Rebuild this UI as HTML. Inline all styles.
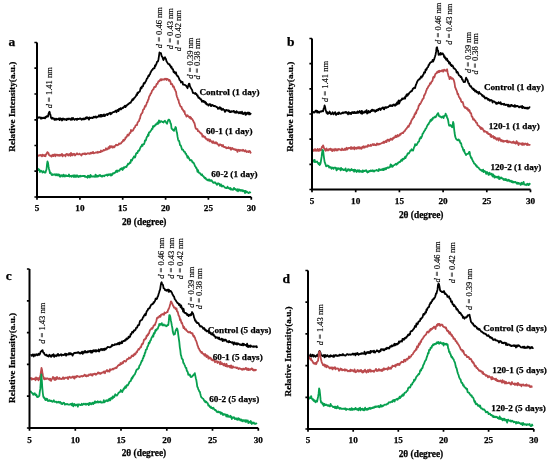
<!DOCTYPE html>
<html><head><meta charset="utf-8"><style>
html,body{margin:0;padding:0;background:#fff;width:550px;height:462px;overflow:hidden}
svg{display:block;will-change:transform}
text{font-family:"Liberation Serif",serif}
.b{font-weight:bold;stroke:#000;stroke-width:0.25px}
</style></head><body>
<svg width="550" height="462" viewBox="0 0 550 462">

<path d="M37.5,117.6 L38.0,117.9 L38.5,117.6 L39.0,117.2 L39.5,117.6 L40.0,117.3 L40.5,118.0 L41.0,118.8 L41.5,117.7 L42.0,117.6 L42.5,118.3 L43.0,118.2 L43.5,118.1 L44.0,117.4 L44.5,118.0 L45.0,118.4 L45.5,117.0 L46.0,117.4 L46.5,116.3 L47.0,116.6 L47.5,116.0 L48.0,116.5 L48.5,113.9 L49.0,112.6 L49.5,111.8 L50.0,113.6 L50.5,115.1 L51.0,117.7 L51.5,118.3 L52.0,118.7 L52.5,117.8 L53.0,118.6 L53.5,118.4 L54.0,118.6 L54.5,119.9 L55.0,118.7 L55.5,119.2 L56.0,119.8 L56.5,118.8 L57.0,119.1 L57.5,119.3 L58.0,119.2 L58.5,118.4 L59.0,119.2 L59.5,120.1 L60.0,118.2 L60.5,119.7 L61.0,119.3 L61.5,118.8 L62.0,120.5 L62.5,119.7 L63.0,118.4 L63.5,119.2 L64.0,119.5 L64.5,119.0 L65.0,119.6 L65.5,119.1 L66.0,119.6 L66.5,120.1 L67.0,118.7 L67.5,119.3 L68.0,118.8 L68.5,119.2 L69.0,118.4 L69.5,118.7 L70.0,119.0 L70.5,119.7 L71.0,119.9 L71.5,118.2 L72.0,118.6 L72.5,119.5 L73.0,117.8 L73.5,118.8 L74.0,119.0 L74.5,119.9 L75.0,119.5 L75.5,118.8 L76.0,118.8 L76.5,118.9 L77.0,120.0 L77.5,118.7 L78.0,118.8 L78.5,119.2 L79.0,118.9 L79.5,118.9 L80.0,118.3 L80.5,118.9 L81.0,118.6 L81.5,119.7 L82.0,119.3 L82.5,118.8 L83.0,119.2 L83.5,118.5 L84.0,119.4 L84.5,118.7 L85.0,119.0 L85.5,117.7 L86.0,118.8 L86.5,117.4 L87.0,117.1 L87.5,118.2 L88.0,117.7 L88.5,118.3 L89.0,119.6 L89.5,117.5 L90.0,117.6 L90.5,118.1 L91.0,118.2 L91.5,117.7 L92.0,117.6 L92.5,118.1 L93.0,117.9 L93.5,116.8 L94.0,117.4 L94.5,117.4 L95.0,116.6 L95.5,117.3 L96.0,116.5 L96.5,117.6 L97.0,117.1 L97.5,116.9 L98.0,116.4 L98.5,116.6 L99.0,115.3 L99.5,115.7 L100.0,116.6 L100.5,114.9 L101.0,116.7 L101.5,114.9 L102.0,116.4 L102.5,115.2 L103.0,116.1 L103.5,115.6 L104.0,114.4 L104.5,116.1 L105.0,116.0 L105.5,114.9 L106.0,114.6 L106.5,114.6 L107.0,113.9 L107.5,115.1 L108.0,113.9 L108.5,114.0 L109.0,113.4 L109.5,113.4 L110.0,112.8 L110.5,114.3 L111.0,113.2 L111.5,113.7 L112.0,112.9 L112.5,112.3 L113.0,112.3 L113.5,112.0 L114.0,112.2 L114.5,111.7 L115.0,111.6 L115.5,110.7 L116.0,110.8 L116.5,112.2 L117.0,110.5 L117.5,110.0 L118.0,110.7 L118.5,111.1 L119.0,109.0 L119.5,109.6 L120.0,109.1 L120.5,108.1 L121.0,109.4 L121.5,108.7 L122.0,108.5 L122.5,107.6 L123.0,108.1 L123.5,107.2 L124.0,107.1 L124.5,106.2 L125.0,105.8 L125.5,107.1 L126.0,105.6 L126.5,105.8 L127.0,105.2 L127.5,104.6 L128.0,104.1 L128.5,104.4 L129.0,103.4 L129.5,103.0 L130.0,102.7 L130.5,102.9 L131.0,102.1 L131.5,101.3 L132.0,100.2 L132.5,99.1 L133.0,100.0 L133.5,99.4 L134.0,98.0 L134.5,97.8 L135.0,97.3 L135.5,96.6 L136.0,96.0 L136.5,94.4 L137.0,95.0 L137.5,92.6 L138.0,93.3 L138.5,92.3 L139.0,91.9 L139.5,91.9 L140.0,90.9 L140.5,88.5 L141.0,87.5 L141.5,88.4 L142.0,86.5 L142.5,86.4 L143.0,86.3 L143.5,83.9 L144.0,82.9 L144.5,83.6 L145.0,82.7 L145.5,81.7 L146.0,81.0 L146.5,79.6 L147.0,78.3 L147.5,78.3 L148.0,76.8 L148.5,75.5 L149.0,76.0 L149.5,74.7 L150.0,74.2 L150.5,72.4 L151.0,71.8 L151.5,70.7 L152.0,70.0 L152.5,69.9 L153.0,68.6 L153.5,68.6 L154.0,67.9 L154.5,68.3 L155.0,65.3 L155.5,66.0 L156.0,64.6 L156.5,63.8 L157.0,61.9 L157.5,61.7 L158.0,61.3 L158.5,59.2 L159.0,55.9 L159.5,52.4 L160.0,53.1 L160.5,53.3 L161.0,53.1 L161.5,55.6 L162.0,56.7 L162.5,57.2 L163.0,59.1 L163.5,60.0 L164.0,58.8 L164.5,57.5 L165.0,57.3 L165.5,58.5 L166.0,59.3 L166.5,61.3 L167.0,62.1 L167.5,62.8 L168.0,63.8 L168.5,64.1 L169.0,64.4 L169.5,64.1 L170.0,65.8 L170.5,65.7 L171.0,67.6 L171.5,66.8 L172.0,68.4 L172.5,69.2 L173.0,69.1 L173.5,71.8 L174.0,72.3 L174.5,71.7 L175.0,73.2 L175.5,73.6 L176.0,72.4 L176.5,74.9 L177.0,75.4 L177.5,76.2 L178.0,76.1 L178.5,77.4 L179.0,78.3 L179.5,80.0 L180.0,80.3 L180.5,80.8 L181.0,82.5 L181.5,81.8 L182.0,82.4 L182.5,81.9 L183.0,84.5 L183.5,84.4 L184.0,84.7 L184.5,84.9 L185.0,84.9 L185.5,85.4 L186.0,85.6 L186.5,86.4 L187.0,87.2 L187.5,88.2 L188.0,86.6 L188.5,84.8 L189.0,83.7 L189.5,83.9 L190.0,86.5 L190.5,87.2 L191.0,88.2 L191.5,89.0 L192.0,89.7 L192.5,91.4 L193.0,93.0 L193.5,92.7 L194.0,93.2 L194.5,93.5 L195.0,93.9 L195.5,93.0 L196.0,94.1 L196.5,94.0 L197.0,95.6 L197.5,95.1 L198.0,96.6 L198.5,97.9 L199.0,97.4 L199.5,97.8 L200.0,98.9 L200.5,99.3 L201.0,99.1 L201.5,100.4 L202.0,101.8 L202.5,100.7 L203.0,101.1 L203.5,100.9 L204.0,102.1 L204.5,101.4 L205.0,101.8 L205.5,103.6 L206.0,102.5 L206.5,104.1 L207.0,104.6 L207.5,104.1 L208.0,104.5 L208.5,105.6 L209.0,104.4 L209.5,104.4 L210.0,104.0 L210.5,105.1 L211.0,106.1 L211.5,105.9 L212.0,104.8 L212.5,105.0 L213.0,105.3 L213.5,106.0 L214.0,105.8 L214.5,106.2 L215.0,106.4 L215.5,106.2 L216.0,106.6 L216.5,107.0 L217.0,107.0 L217.5,107.6 L218.0,108.8 L218.5,108.2 L219.0,108.1 L219.5,107.2 L220.0,108.8 L220.5,107.5 L221.0,108.1 L221.5,109.8 L222.0,109.9 L222.5,109.6 L223.0,108.7 L223.5,109.7 L224.0,109.6 L224.5,110.6 L225.0,111.8 L225.5,110.6 L226.0,110.0 L226.5,109.9 L227.0,110.7 L227.5,110.7 L228.0,110.2 L228.5,111.1 L229.0,110.4 L229.5,111.9 L230.0,112.0 L230.5,112.1 L231.0,111.1 L231.5,111.9 L232.0,111.5 L232.5,111.4 L233.0,111.5 L233.5,111.0 L234.0,111.0 L234.5,112.5 L235.0,111.9 L235.5,112.3 L236.0,112.9 L236.5,111.2 L237.0,111.8 L237.5,112.5 L238.0,112.7 L238.5,112.3 L239.0,113.3 L239.5,112.8 L240.0,111.9 L240.5,112.2 L241.0,113.4 L241.5,113.2 L242.0,111.7 L242.5,113.9 L243.0,113.4 L243.5,114.0 L244.0,112.9 L244.5,113.0 L245.0,112.5 L245.5,114.9 L246.0,113.2 L246.5,114.4 L247.0,113.0 L247.5,113.6 L248.0,112.4 L248.5,113.3 L249.0,114.2 L249.5,112.8 L250.0,114.3 L250.5,113.9 L251.0,113.0" fill="none" stroke="#000" stroke-width="1.8" stroke-linejoin="round"/>
<path d="M37.5,155.5 L38.0,155.5 L38.5,155.8 L39.0,155.4 L39.5,155.2 L40.0,155.6 L40.5,155.1 L41.0,154.9 L41.5,155.7 L42.0,156.3 L42.5,154.7 L43.0,155.7 L43.5,155.2 L44.0,154.9 L44.5,156.1 L45.0,155.2 L45.5,156.2 L46.0,154.1 L46.5,154.1 L47.0,152.9 L47.5,152.1 L48.0,153.0 L48.5,153.2 L49.0,154.9 L49.5,155.5 L50.0,155.3 L50.5,155.9 L51.0,156.0 L51.5,156.6 L52.0,155.3 L52.5,155.8 L53.0,154.7 L53.5,156.2 L54.0,155.0 L54.5,154.5 L55.0,155.6 L55.5,156.3 L56.0,154.5 L56.5,154.8 L57.0,155.0 L57.5,154.7 L58.0,155.7 L58.5,154.9 L59.0,154.9 L59.5,155.7 L60.0,154.8 L60.5,155.6 L61.0,154.6 L61.5,154.5 L62.0,154.0 L62.5,156.4 L63.0,155.0 L63.5,155.3 L64.0,155.1 L64.5,155.2 L65.0,155.1 L65.5,156.3 L66.0,154.4 L66.5,154.0 L67.0,154.3 L67.5,154.1 L68.0,155.4 L68.5,155.5 L69.0,154.3 L69.5,154.0 L70.0,154.6 L70.5,155.8 L71.0,153.0 L71.5,155.1 L72.0,154.1 L72.5,155.4 L73.0,154.0 L73.5,154.5 L74.0,153.7 L74.5,154.0 L75.0,155.5 L75.5,155.1 L76.0,154.3 L76.5,154.0 L77.0,153.3 L77.5,154.2 L78.0,154.4 L78.5,154.4 L79.0,154.3 L79.5,153.6 L80.0,154.3 L80.5,154.3 L81.0,155.1 L81.5,155.5 L82.0,154.1 L82.5,153.7 L83.0,154.1 L83.5,153.7 L84.0,153.6 L84.5,154.0 L85.0,153.3 L85.5,154.4 L86.0,153.9 L86.5,154.1 L87.0,153.7 L87.5,153.3 L88.0,153.2 L88.5,153.6 L89.0,153.3 L89.5,153.8 L90.0,153.6 L90.5,152.7 L91.0,153.5 L91.5,152.6 L92.0,153.0 L92.5,153.1 L93.0,151.9 L93.5,153.3 L94.0,153.3 L94.5,153.0 L95.0,152.8 L95.5,152.7 L96.0,152.3 L96.5,152.6 L97.0,152.4 L97.5,152.7 L98.0,151.7 L98.5,152.5 L99.0,152.3 L99.5,152.0 L100.0,151.6 L100.5,152.1 L101.0,150.5 L101.5,151.6 L102.0,151.3 L102.5,151.1 L103.0,150.9 L103.5,150.0 L104.0,150.1 L104.5,150.4 L105.0,150.1 L105.5,149.7 L106.0,148.3 L106.5,149.4 L107.0,149.6 L107.5,149.3 L108.0,148.6 L108.5,147.2 L109.0,148.6 L109.5,147.7 L110.0,146.0 L110.5,147.7 L111.0,146.3 L111.5,146.2 L112.0,146.5 L112.5,147.6 L113.0,146.4 L113.5,146.6 L114.0,147.4 L114.5,147.1 L115.0,145.8 L115.5,145.6 L116.0,144.7 L116.5,144.8 L117.0,145.3 L117.5,145.1 L118.0,144.6 L118.5,144.9 L119.0,143.5 L119.5,143.7 L120.0,143.9 L120.5,143.4 L121.0,143.4 L121.5,142.6 L122.0,141.8 L122.5,141.8 L123.0,140.5 L123.5,139.7 L124.0,140.7 L124.5,139.7 L125.0,139.4 L125.5,137.5 L126.0,137.8 L126.5,137.0 L127.0,136.2 L127.5,134.7 L128.0,135.3 L128.5,135.5 L129.0,134.5 L129.5,133.2 L130.0,133.0 L130.5,132.9 L131.0,130.0 L131.5,131.1 L132.0,131.0 L132.5,130.4 L133.0,130.5 L133.5,129.4 L134.0,128.3 L134.5,127.6 L135.0,127.2 L135.5,125.6 L136.0,125.2 L136.5,125.1 L137.0,125.0 L137.5,122.8 L138.0,122.1 L138.5,121.3 L139.0,121.1 L139.5,119.0 L140.0,118.7 L140.5,115.7 L141.0,114.8 L141.5,113.6 L142.0,113.3 L142.5,112.5 L143.0,109.9 L143.5,109.4 L144.0,109.2 L144.5,107.6 L145.0,106.0 L145.5,106.6 L146.0,105.2 L146.5,104.1 L147.0,102.3 L147.5,102.1 L148.0,100.0 L148.5,99.6 L149.0,97.0 L149.5,95.9 L150.0,95.5 L150.5,93.8 L151.0,93.7 L151.5,92.4 L152.0,90.7 L152.5,90.4 L153.0,89.3 L153.5,89.2 L154.0,87.4 L154.5,86.7 L155.0,87.0 L155.5,86.9 L156.0,86.1 L156.5,84.2 L157.0,83.7 L157.5,83.9 L158.0,82.3 L158.5,81.2 L159.0,81.4 L159.5,81.2 L160.0,80.1 L160.5,79.3 L161.0,79.2 L161.5,80.3 L162.0,79.2 L162.5,79.5 L163.0,79.6 L163.5,79.7 L164.0,79.1 L164.5,79.6 L165.0,78.7 L165.5,79.1 L166.0,78.6 L166.5,80.0 L167.0,79.3 L167.5,78.9 L168.0,79.4 L168.5,79.9 L169.0,80.9 L169.5,79.9 L170.0,80.8 L170.5,81.8 L171.0,84.2 L171.5,83.9 L172.0,83.9 L172.5,85.1 L173.0,86.8 L173.5,86.2 L174.0,87.0 L174.5,89.0 L175.0,89.6 L175.5,90.9 L176.0,91.7 L176.5,95.0 L177.0,96.8 L177.5,97.9 L178.0,99.9 L178.5,99.8 L179.0,102.9 L179.5,103.6 L180.0,105.1 L180.5,106.4 L181.0,106.7 L181.5,106.8 L182.0,109.0 L182.5,109.2 L183.0,110.2 L183.5,110.8 L184.0,111.8 L184.5,111.2 L185.0,114.2 L185.5,114.3 L186.0,115.5 L186.5,116.6 L187.0,115.9 L187.5,115.2 L188.0,116.2 L188.5,116.4 L189.0,117.1 L189.5,117.8 L190.0,116.7 L190.5,118.5 L191.0,117.5 L191.5,118.9 L192.0,119.0 L192.5,119.5 L193.0,120.6 L193.5,121.4 L194.0,122.6 L194.5,123.2 L195.0,125.5 L195.5,127.8 L196.0,128.7 L196.5,129.0 L197.0,129.4 L197.5,129.2 L198.0,131.2 L198.5,130.9 L199.0,131.5 L199.5,131.9 L200.0,132.7 L200.5,132.9 L201.0,133.7 L201.5,133.5 L202.0,134.5 L202.5,136.7 L203.0,135.6 L203.5,136.0 L204.0,136.9 L204.5,137.5 L205.0,136.7 L205.5,137.7 L206.0,138.8 L206.5,138.8 L207.0,139.0 L207.5,140.3 L208.0,139.1 L208.5,139.9 L209.0,139.8 L209.5,141.4 L210.0,139.5 L210.5,140.6 L211.0,140.9 L211.5,141.9 L212.0,142.1 L212.5,142.9 L213.0,141.2 L213.5,142.9 L214.0,142.4 L214.5,142.4 L215.0,143.4 L215.5,142.7 L216.0,142.2 L216.5,143.5 L217.0,143.0 L217.5,143.7 L218.0,144.6 L218.5,144.8 L219.0,145.8 L219.5,144.9 L220.0,144.2 L220.5,144.9 L221.0,145.0 L221.5,145.0 L222.0,146.2 L222.5,145.7 L223.0,145.0 L223.5,146.9 L224.0,146.6 L224.5,147.0 L225.0,147.0 L225.5,147.5 L226.0,147.3 L226.5,148.3 L227.0,147.9 L227.5,148.0 L228.0,148.2 L228.5,147.1 L229.0,148.1 L229.5,148.2 L230.0,148.6 L230.5,147.7 L231.0,149.8 L231.5,148.9 L232.0,148.2 L232.5,148.0 L233.0,149.1 L233.5,149.3 L234.0,149.0 L234.5,149.6 L235.0,149.3 L235.5,150.1 L236.0,149.4 L236.5,150.0 L237.0,150.7 L237.5,151.9 L238.0,149.6 L238.5,150.1 L239.0,149.9 L239.5,151.0 L240.0,149.9 L240.5,150.4 L241.0,150.7 L241.5,150.2 L242.0,150.3 L242.5,150.7 L243.0,149.7 L243.5,150.2 L244.0,150.9 L244.5,151.3 L245.0,151.2 L245.5,150.2 L246.0,151.1 L246.5,152.0 L247.0,151.9 L247.5,151.5 L248.0,151.1 L248.5,152.1 L249.0,151.4 L249.5,151.0 L250.0,151.3 L250.5,152.8 L251.0,152.0" fill="none" stroke="#bb4a4d" stroke-width="1.8" stroke-linejoin="round"/>
<path d="M37.5,169.6 L38.0,168.8 L38.5,170.1 L39.0,169.4 L39.5,170.0 L40.0,172.0 L40.5,171.1 L41.0,170.6 L41.5,171.1 L42.0,171.6 L42.5,172.5 L43.0,171.7 L43.5,171.1 L44.0,172.2 L44.5,172.5 L45.0,172.4 L45.5,172.5 L46.0,170.7 L46.5,169.5 L47.0,164.5 L47.5,161.5 L48.0,162.9 L48.5,166.4 L49.0,169.0 L49.5,170.7 L50.0,173.2 L50.5,172.4 L51.0,173.6 L51.5,174.5 L52.0,175.0 L52.5,174.3 L53.0,174.8 L53.5,174.5 L54.0,174.8 L54.5,174.7 L55.0,174.1 L55.5,174.8 L56.0,175.4 L56.5,174.3 L57.0,174.8 L57.5,175.4 L58.0,174.3 L58.5,175.2 L59.0,174.4 L59.5,175.9 L60.0,176.7 L60.5,176.6 L61.0,175.1 L61.5,175.8 L62.0,175.4 L62.5,175.5 L63.0,176.5 L63.5,174.6 L64.0,176.2 L64.5,175.5 L65.0,176.5 L65.5,175.8 L66.0,175.2 L66.5,175.9 L67.0,176.2 L67.5,175.8 L68.0,176.1 L68.5,175.5 L69.0,174.5 L69.5,176.5 L70.0,176.4 L70.5,176.0 L71.0,176.0 L71.5,176.7 L72.0,175.7 L72.5,175.6 L73.0,175.9 L73.5,176.9 L74.0,175.2 L74.5,176.9 L75.0,175.7 L75.5,175.4 L76.0,177.0 L76.5,176.1 L77.0,175.3 L77.5,176.0 L78.0,176.8 L78.5,177.0 L79.0,175.9 L79.5,176.5 L80.0,176.7 L80.5,175.8 L81.0,176.4 L81.5,176.2 L82.0,175.9 L82.5,175.9 L83.0,176.2 L83.5,176.2 L84.0,175.8 L84.5,175.9 L85.0,176.9 L85.5,176.3 L86.0,176.8 L86.5,177.0 L87.0,176.6 L87.5,177.7 L88.0,175.7 L88.5,176.7 L89.0,176.0 L89.5,177.4 L90.0,177.3 L90.5,174.9 L91.0,175.6 L91.5,176.6 L92.0,176.7 L92.5,176.7 L93.0,176.2 L93.5,176.5 L94.0,176.6 L94.5,176.1 L95.0,176.9 L95.5,174.7 L96.0,176.6 L96.5,175.5 L97.0,176.8 L97.5,176.0 L98.0,175.6 L98.5,176.4 L99.0,175.5 L99.5,175.5 L100.0,175.0 L100.5,176.0 L101.0,176.3 L101.5,176.6 L102.0,175.8 L102.5,176.5 L103.0,175.7 L103.5,175.6 L104.0,176.0 L104.5,176.2 L105.0,175.2 L105.5,175.2 L106.0,175.2 L106.5,175.2 L107.0,174.5 L107.5,175.7 L108.0,174.6 L108.5,175.1 L109.0,174.2 L109.5,174.8 L110.0,174.8 L110.5,174.1 L111.0,175.6 L111.5,174.3 L112.0,175.1 L112.5,174.4 L113.0,173.1 L113.5,173.1 L114.0,173.4 L114.5,172.9 L115.0,172.7 L115.5,172.3 L116.0,171.0 L116.5,171.9 L117.0,170.3 L117.5,171.8 L118.0,170.9 L118.5,170.6 L119.0,170.7 L119.5,170.8 L120.0,169.5 L120.5,169.0 L121.0,169.2 L121.5,168.3 L122.0,168.7 L122.5,170.0 L123.0,168.0 L123.5,168.8 L124.0,167.1 L124.5,167.8 L125.0,167.0 L125.5,166.8 L126.0,166.7 L126.5,167.0 L127.0,165.6 L127.5,165.0 L128.0,163.8 L128.5,164.3 L129.0,163.3 L129.5,163.4 L130.0,162.3 L130.5,162.9 L131.0,159.9 L131.5,160.4 L132.0,160.5 L132.5,159.1 L133.0,158.1 L133.5,157.8 L134.0,156.4 L134.5,156.6 L135.0,157.5 L135.5,155.9 L136.0,153.8 L136.5,153.2 L137.0,152.8 L137.5,153.0 L138.0,151.1 L138.5,150.5 L139.0,150.8 L139.5,150.0 L140.0,148.5 L140.5,147.4 L141.0,146.5 L141.5,146.4 L142.0,144.7 L142.5,145.9 L143.0,144.3 L143.5,144.2 L144.0,144.2 L144.5,142.8 L145.0,140.3 L145.5,140.7 L146.0,139.9 L146.5,137.8 L147.0,136.7 L147.5,136.4 L148.0,134.5 L148.5,135.7 L149.0,132.3 L149.5,132.3 L150.0,132.0 L150.5,131.1 L151.0,130.5 L151.5,129.7 L152.0,128.6 L152.5,128.8 L153.0,126.1 L153.5,127.0 L154.0,126.0 L154.5,126.2 L155.0,125.7 L155.5,124.5 L156.0,124.1 L156.5,124.5 L157.0,123.7 L157.5,122.5 L158.0,123.8 L158.5,123.5 L159.0,120.5 L159.5,121.2 L160.0,122.4 L160.5,121.3 L161.0,121.2 L161.5,121.4 L162.0,121.6 L162.5,122.1 L163.0,121.9 L163.5,122.5 L164.0,121.4 L164.5,121.1 L165.0,120.7 L165.5,122.0 L166.0,122.2 L166.5,123.1 L167.0,123.7 L167.5,122.0 L168.0,120.6 L168.5,119.7 L169.0,119.6 L169.5,120.3 L170.0,121.2 L170.5,123.2 L171.0,124.0 L171.5,128.2 L172.0,129.0 L172.5,129.3 L173.0,130.1 L173.5,130.3 L174.0,130.8 L174.5,129.1 L175.0,128.9 L175.5,127.0 L176.0,127.8 L176.5,131.4 L177.0,132.8 L177.5,136.4 L178.0,139.2 L178.5,140.6 L179.0,140.7 L179.5,142.3 L180.0,145.1 L180.5,145.2 L181.0,146.0 L181.5,147.7 L182.0,149.5 L182.5,149.6 L183.0,149.7 L183.5,150.6 L184.0,151.6 L184.5,151.6 L185.0,152.1 L185.5,153.6 L186.0,153.6 L186.5,154.9 L187.0,155.7 L187.5,157.8 L188.0,156.4 L188.5,157.6 L189.0,158.3 L189.5,159.4 L190.0,160.4 L190.5,160.0 L191.0,160.3 L191.5,160.2 L192.0,161.1 L192.5,162.5 L193.0,162.7 L193.5,162.5 L194.0,163.6 L194.5,164.7 L195.0,166.1 L195.5,166.5 L196.0,167.9 L196.5,168.0 L197.0,169.4 L197.5,171.9 L198.0,170.1 L198.5,171.9 L199.0,172.8 L199.5,173.0 L200.0,173.2 L200.5,174.2 L201.0,174.7 L201.5,175.1 L202.0,174.3 L202.5,175.8 L203.0,175.8 L203.5,176.3 L204.0,177.2 L204.5,177.8 L205.0,178.3 L205.5,177.8 L206.0,179.0 L206.5,179.5 L207.0,179.8 L207.5,180.2 L208.0,179.5 L208.5,179.7 L209.0,180.7 L209.5,179.5 L210.0,180.8 L210.5,180.5 L211.0,180.9 L211.5,180.2 L212.0,181.0 L212.5,181.8 L213.0,182.6 L213.5,182.9 L214.0,182.4 L214.5,182.5 L215.0,182.3 L215.5,183.4 L216.0,183.2 L216.5,183.9 L217.0,184.9 L217.5,183.9 L218.0,183.2 L218.5,183.8 L219.0,183.6 L219.5,184.0 L220.0,185.8 L220.5,185.3 L221.0,184.4 L221.5,186.0 L222.0,186.5 L222.5,185.7 L223.0,185.7 L223.5,186.1 L224.0,186.6 L224.5,187.0 L225.0,187.6 L225.5,187.8 L226.0,187.9 L226.5,188.2 L227.0,188.0 L227.5,186.7 L228.0,187.8 L228.5,188.2 L229.0,187.9 L229.5,188.9 L230.0,188.3 L230.5,188.0 L231.0,189.7 L231.5,189.3 L232.0,189.1 L232.5,189.7 L233.0,189.9 L233.5,189.5 L234.0,187.8 L234.5,189.0 L235.0,189.3 L235.5,189.0 L236.0,189.8 L236.5,190.6 L237.0,189.5 L237.5,189.2 L238.0,191.3 L238.5,189.8 L239.0,189.3 L239.5,190.4 L240.0,190.5 L240.5,189.9 L241.0,190.9 L241.5,190.2 L242.0,190.0 L242.5,190.8 L243.0,191.3 L243.5,190.5 L244.0,191.2 L244.5,191.0 L245.0,193.1 L245.5,190.9 L246.0,192.4 L246.5,191.6 L247.0,191.7 L247.5,192.4 L248.0,192.6 L248.5,193.0 L249.0,192.6 L249.5,192.1 L250.0,192.3 L250.5,193.2" fill="none" stroke="#07a04f" stroke-width="1.8" stroke-linejoin="round"/>
<path d="M37,42.5 V197 H251.3" fill="none" stroke="#000" stroke-width="2.0"/>
<path d="M34.4,42.5 H37 M34.4,68.2 H37 M34.4,94.0 H37 M34.4,119.8 H37 M34.4,145.5 H37 M34.4,171.2 H37 M34.4,197.0 H37 M37.0,197 V199.8 M79.9,197 V199.8 M122.7,197 V199.8 M165.6,197 V199.8 M208.4,197 V199.8 M251.3,197 V199.8" stroke="#000" stroke-width="1.7"/>
<text class="b" x="37.0" y="211.3" font-size="9.2" text-anchor="middle">5</text>
<text class="b" x="79.9" y="211.3" font-size="9.2" text-anchor="middle">10</text>
<text class="b" x="122.7" y="211.3" font-size="9.2" text-anchor="middle">15</text>
<text class="b" x="165.6" y="211.3" font-size="9.2" text-anchor="middle">20</text>
<text class="b" x="208.4" y="211.3" font-size="9.2" text-anchor="middle">25</text>
<text class="b" x="251.3" y="211.3" font-size="9.2" text-anchor="middle">30</text>
<text class="b" x="144.2" y="224.7" font-size="9.4" text-anchor="middle">2θ (degree)</text>
<text class="b" transform="translate(11.6,106.7) rotate(-90)" x="0" y="3" font-size="9.25" text-anchor="middle">Relative Intensity(a.u.)</text>
<text class="b" x="8.4" y="46.2" font-size="13.5">a</text>
<text class="b" x="199.4" y="94.6" font-size="9.2">Control (1 day)</text>
<text class="b" x="206" y="133.6" font-size="9.2">60-1 (1 day)</text>
<text class="b" x="211.2" y="176.7" font-size="9.2">60-2 (1 day)</text>
<text transform="translate(51.8,108.3) rotate(-90) scale(1,1.0)" x="0" y="0" font-size="8.5" stroke="#000" stroke-width="0.15"><tspan font-style="italic">d</tspan> = 1.41 nm</text>
<text transform="translate(161.8,48.2) rotate(-90) scale(1,1.0)" x="0" y="0" font-size="8.5" stroke="#000" stroke-width="0.15"><tspan font-style="italic">d</tspan> = 0.46 nm</text>
<text transform="translate(172.8,49.2) rotate(-90) scale(1,1.0)" x="0" y="0" font-size="8.5" stroke="#000" stroke-width="0.15"><tspan font-style="italic">d</tspan> = 0.43 nm</text>
<text transform="translate(180.8,51.2) rotate(-90) scale(1,1.0)" x="0" y="0" font-size="8.5" stroke="#000" stroke-width="0.15"><tspan font-style="italic">d</tspan> = 0.42 nm</text>
<text transform="translate(192.60000000000002,78.7) rotate(-90) scale(1,1.0)" x="0" y="0" font-size="8.5" stroke="#000" stroke-width="0.15"><tspan font-style="italic">d</tspan> = 0.39 nm</text>
<text transform="translate(199.70000000000002,79.4) rotate(-90) scale(1,1.0)" x="0" y="0" font-size="8.5" stroke="#000" stroke-width="0.15"><tspan font-style="italic">d</tspan> = 0.38 nm</text>
<path d="M312.6,112.0 L313.1,112.5 L313.6,111.9 L314.1,112.3 L314.6,112.6 L315.1,111.7 L315.6,110.6 L316.1,110.8 L316.6,110.7 L317.1,112.6 L317.6,111.0 L318.1,112.4 L318.6,112.0 L319.1,112.7 L319.6,112.3 L320.1,111.5 L320.6,111.5 L321.1,111.6 L321.6,111.5 L322.1,110.8 L322.6,110.8 L323.1,111.4 L323.6,108.7 L324.1,108.0 L324.6,105.4 L325.1,107.0 L325.6,109.9 L326.1,111.2 L326.6,112.9 L327.1,112.1 L327.6,113.9 L328.1,112.8 L328.6,113.6 L329.1,113.3 L329.6,111.5 L330.1,112.7 L330.6,113.3 L331.1,114.2 L331.6,113.4 L332.1,113.4 L332.6,112.3 L333.1,114.1 L333.6,114.4 L334.1,113.2 L334.6,113.1 L335.1,112.1 L335.6,113.8 L336.1,115.0 L336.6,113.7 L337.1,114.0 L337.6,113.6 L338.1,112.6 L338.6,114.1 L339.1,112.4 L339.6,113.1 L340.1,113.4 L340.6,113.8 L341.1,113.5 L341.6,113.5 L342.1,112.7 L342.6,112.4 L343.1,113.2 L343.6,112.7 L344.1,112.3 L344.6,112.4 L345.1,112.9 L345.6,112.0 L346.1,112.3 L346.6,112.1 L347.1,113.3 L347.6,113.4 L348.1,114.4 L348.6,112.1 L349.1,112.7 L349.6,113.7 L350.1,112.9 L350.6,112.8 L351.1,114.1 L351.6,112.8 L352.1,112.2 L352.6,112.1 L353.1,113.1 L353.6,113.1 L354.1,111.9 L354.6,112.1 L355.1,113.1 L355.6,113.1 L356.1,112.3 L356.6,113.0 L357.1,113.0 L357.6,111.4 L358.1,112.3 L358.6,112.7 L359.1,112.1 L359.6,111.0 L360.1,112.2 L360.6,112.8 L361.1,113.3 L361.6,110.8 L362.1,113.9 L362.6,111.4 L363.1,112.7 L363.6,112.9 L364.1,112.7 L364.6,112.1 L365.1,111.2 L365.6,112.3 L366.1,111.3 L366.6,110.1 L367.1,113.5 L367.6,112.1 L368.1,112.8 L368.6,110.9 L369.1,112.4 L369.6,112.4 L370.1,112.3 L370.6,111.2 L371.1,110.4 L371.6,111.0 L372.1,109.6 L372.6,109.8 L373.1,110.9 L373.6,110.1 L374.1,110.6 L374.6,110.5 L375.1,111.8 L375.6,111.3 L376.1,110.3 L376.6,111.0 L377.1,109.6 L377.6,109.8 L378.1,110.4 L378.6,108.9 L379.1,109.4 L379.6,108.5 L380.1,109.3 L380.6,110.1 L381.1,108.4 L381.6,108.8 L382.1,107.9 L382.6,107.6 L383.1,107.4 L383.6,109.0 L384.1,109.4 L384.6,108.0 L385.1,107.1 L385.6,107.9 L386.1,107.1 L386.6,107.7 L387.1,107.3 L387.6,107.1 L388.1,107.2 L388.6,106.4 L389.1,106.4 L389.6,105.4 L390.1,106.1 L390.6,105.3 L391.1,106.0 L391.6,105.4 L392.1,105.9 L392.6,106.0 L393.1,104.6 L393.6,104.8 L394.1,104.5 L394.6,105.4 L395.1,105.8 L395.6,104.9 L396.1,103.8 L396.6,104.7 L397.1,102.4 L397.6,104.0 L398.1,102.2 L398.6,100.5 L399.1,103.6 L399.6,102.5 L400.1,100.4 L400.6,100.8 L401.1,100.1 L401.6,99.9 L402.1,98.5 L402.6,98.6 L403.1,99.0 L403.6,98.4 L404.1,98.6 L404.6,97.5 L405.1,98.6 L405.6,96.2 L406.1,96.4 L406.6,94.5 L407.1,94.5 L407.6,95.7 L408.1,93.8 L408.6,94.3 L409.1,93.4 L409.6,92.3 L410.1,92.2 L410.6,91.6 L411.1,91.1 L411.6,91.3 L412.1,90.7 L412.6,89.3 L413.1,88.4 L413.6,88.6 L414.1,87.6 L414.6,87.7 L415.1,88.0 L415.6,85.9 L416.1,84.4 L416.6,83.4 L417.1,81.9 L417.6,81.0 L418.1,80.1 L418.6,79.8 L419.1,79.2 L419.6,79.4 L420.1,78.1 L420.6,77.7 L421.1,76.4 L421.6,77.6 L422.1,76.2 L422.6,76.2 L423.1,74.7 L423.6,74.3 L424.1,72.3 L424.6,72.1 L425.1,72.6 L425.6,69.3 L426.1,70.0 L426.6,69.5 L427.1,67.9 L427.6,67.4 L428.1,67.0 L428.6,65.0 L429.1,65.0 L429.6,63.5 L430.1,63.0 L430.6,62.4 L431.1,62.2 L431.6,61.9 L432.1,61.7 L432.6,59.9 L433.1,61.7 L433.6,60.5 L434.1,59.4 L434.6,57.8 L435.1,56.3 L435.6,54.4 L436.1,51.7 L436.6,47.7 L437.1,47.3 L437.6,50.5 L438.1,50.6 L438.6,54.8 L439.1,54.4 L439.6,54.0 L440.1,54.8 L440.6,52.9 L441.1,53.7 L441.6,54.4 L442.1,53.3 L442.6,53.3 L443.1,54.2 L443.6,54.7 L444.1,57.0 L444.6,56.3 L445.1,58.4 L445.6,57.8 L446.1,59.7 L446.6,59.8 L447.1,58.7 L447.6,61.0 L448.1,60.8 L448.6,61.7 L449.1,63.6 L449.6,62.3 L450.1,62.8 L450.6,65.0 L451.1,64.6 L451.6,66.1 L452.1,65.8 L452.6,65.5 L453.1,66.6 L453.6,68.1 L454.1,68.5 L454.6,68.5 L455.1,69.2 L455.6,69.7 L456.1,70.1 L456.6,72.5 L457.1,72.0 L457.6,72.0 L458.1,73.1 L458.6,74.7 L459.1,75.4 L459.6,75.6 L460.1,76.0 L460.6,77.1 L461.1,76.6 L461.6,77.5 L462.1,79.6 L462.6,79.5 L463.1,80.8 L463.6,82.0 L464.1,82.0 L464.6,81.5 L465.1,81.9 L465.6,79.4 L466.1,77.7 L466.6,78.6 L467.1,79.7 L467.6,80.2 L468.1,82.2 L468.6,83.5 L469.1,83.4 L469.6,85.4 L470.1,86.0 L470.6,86.5 L471.1,86.3 L471.6,87.6 L472.1,88.3 L472.6,88.9 L473.1,88.5 L473.6,90.0 L474.1,89.2 L474.6,90.2 L475.1,91.5 L475.6,90.5 L476.1,91.0 L476.6,92.3 L477.1,91.7 L477.6,92.1 L478.1,92.8 L478.6,93.7 L479.1,91.9 L479.6,93.2 L480.1,93.4 L480.6,93.7 L481.1,94.2 L481.6,94.6 L482.1,95.7 L482.6,95.2 L483.1,96.3 L483.6,96.8 L484.1,96.3 L484.6,97.2 L485.1,98.5 L485.6,98.0 L486.1,97.7 L486.6,98.3 L487.1,98.1 L487.6,99.2 L488.1,99.8 L488.6,99.0 L489.1,99.6 L489.6,100.7 L490.1,99.9 L490.6,100.6 L491.1,100.0 L491.6,100.3 L492.1,100.7 L492.6,102.6 L493.1,101.2 L493.6,101.3 L494.1,101.4 L494.6,101.8 L495.1,102.5 L495.6,102.4 L496.1,103.8 L496.6,102.7 L497.1,103.7 L497.6,103.1 L498.1,103.4 L498.6,102.2 L499.1,103.2 L499.6,103.4 L500.1,103.4 L500.6,102.3 L501.1,104.4 L501.6,103.7 L502.1,103.8 L502.6,104.1 L503.1,104.2 L503.6,104.7 L504.1,103.8 L504.6,104.1 L505.1,105.0 L505.6,105.0 L506.1,104.8 L506.6,104.7 L507.1,104.7 L507.6,105.3 L508.1,106.2 L508.6,104.8 L509.1,106.6 L509.6,106.2 L510.1,105.5 L510.6,106.4 L511.1,105.0 L511.6,104.9 L512.1,105.3 L512.6,105.9 L513.1,106.1 L513.6,106.0 L514.1,106.5 L514.6,105.1 L515.1,106.9 L515.6,105.7 L516.1,106.2 L516.6,106.4 L517.1,106.0 L517.6,105.9 L518.1,106.2 L518.6,106.9 L519.1,107.4 L519.6,107.4 L520.1,106.4 L520.6,106.6 L521.1,106.6 L521.6,107.5 L522.1,105.9 L522.6,108.1 L523.1,107.0 L523.6,106.9 L524.1,107.7 L524.6,108.2 L525.1,107.7 L525.6,108.2 L526.1,107.7 L526.6,108.4 L527.1,108.5 L527.6,107.6 L528.1,108.6 L528.6,107.8 L529.1,107.8 L529.6,107.2 L530.1,107.6" fill="none" stroke="#000" stroke-width="1.8" stroke-linejoin="round"/>
<path d="M312.6,151.0 L313.1,149.6 L313.6,150.9 L314.1,150.7 L314.6,150.7 L315.1,149.0 L315.6,150.4 L316.1,150.9 L316.6,149.9 L317.1,150.5 L317.6,148.8 L318.1,150.8 L318.6,149.9 L319.1,150.8 L319.6,149.0 L320.1,150.5 L320.6,149.7 L321.1,150.1 L321.6,148.1 L322.1,146.6 L322.6,147.1 L323.1,145.3 L323.6,146.7 L324.1,148.5 L324.6,148.8 L325.1,150.3 L325.6,150.7 L326.1,149.1 L326.6,148.5 L327.1,150.4 L327.6,150.3 L328.1,150.1 L328.6,150.4 L329.1,149.0 L329.6,149.5 L330.1,148.7 L330.6,148.7 L331.1,150.2 L331.6,149.2 L332.1,151.1 L332.6,149.6 L333.1,149.2 L333.6,150.1 L334.1,150.8 L334.6,149.9 L335.1,148.8 L335.6,149.8 L336.1,150.5 L336.6,149.3 L337.1,149.1 L337.6,150.3 L338.1,149.7 L338.6,148.9 L339.1,149.4 L339.6,149.1 L340.1,149.8 L340.6,149.6 L341.1,150.3 L341.6,150.0 L342.1,148.5 L342.6,149.7 L343.1,150.0 L343.6,149.7 L344.1,150.0 L344.6,148.9 L345.1,148.6 L345.6,149.8 L346.1,148.4 L346.6,147.7 L347.1,149.7 L347.6,148.5 L348.1,148.7 L348.6,147.9 L349.1,147.9 L349.6,147.9 L350.1,148.4 L350.6,148.8 L351.1,147.0 L351.6,148.9 L352.1,147.6 L352.6,147.6 L353.1,148.7 L353.6,148.2 L354.1,147.1 L354.6,149.3 L355.1,147.5 L355.6,148.2 L356.1,148.1 L356.6,148.8 L357.1,147.5 L357.6,148.4 L358.1,147.2 L358.6,148.4 L359.1,147.1 L359.6,147.3 L360.1,148.7 L360.6,147.7 L361.1,147.5 L361.6,148.8 L362.1,147.5 L362.6,146.7 L363.1,147.6 L363.6,146.3 L364.1,147.7 L364.6,147.7 L365.1,146.5 L365.6,146.4 L366.1,146.8 L366.6,146.6 L367.1,145.9 L367.6,146.7 L368.1,144.9 L368.6,145.8 L369.1,145.7 L369.6,145.7 L370.1,145.9 L370.6,144.8 L371.1,145.9 L371.6,145.3 L372.1,144.8 L372.6,144.2 L373.1,144.2 L373.6,145.1 L374.1,144.1 L374.6,144.7 L375.1,145.2 L375.6,145.0 L376.1,145.3 L376.6,144.0 L377.1,143.4 L377.6,144.6 L378.1,144.1 L378.6,144.5 L379.1,143.7 L379.6,144.3 L380.1,144.0 L380.6,143.7 L381.1,143.4 L381.6,143.2 L382.1,142.9 L382.6,142.6 L383.1,142.9 L383.6,141.7 L384.1,143.0 L384.6,141.6 L385.1,142.1 L385.6,141.2 L386.1,140.8 L386.6,142.1 L387.1,140.4 L387.6,139.6 L388.1,139.7 L388.6,139.8 L389.1,141.2 L389.6,139.7 L390.1,140.0 L390.6,138.6 L391.1,139.3 L391.6,139.4 L392.1,139.9 L392.6,138.1 L393.1,138.7 L393.6,138.3 L394.1,137.2 L394.6,137.6 L395.1,137.2 L395.6,135.6 L396.1,137.2 L396.6,136.9 L397.1,135.9 L397.6,135.0 L398.1,136.5 L398.6,135.4 L399.1,135.6 L399.6,135.5 L400.1,134.0 L400.6,134.5 L401.1,133.5 L401.6,133.4 L402.1,133.0 L402.6,132.7 L403.1,133.1 L403.6,132.1 L404.1,131.5 L404.6,130.9 L405.1,130.8 L405.6,129.4 L406.1,129.0 L406.6,128.7 L407.1,127.6 L407.6,127.1 L408.1,126.0 L408.6,126.9 L409.1,125.7 L409.6,124.3 L410.1,123.1 L410.6,123.6 L411.1,121.4 L411.6,120.2 L412.1,119.5 L412.6,118.5 L413.1,118.3 L413.6,116.5 L414.1,117.0 L414.6,114.2 L415.1,114.4 L415.6,112.5 L416.1,113.4 L416.6,111.0 L417.1,110.0 L417.6,109.5 L418.1,108.6 L418.6,106.0 L419.1,105.5 L419.6,104.0 L420.1,104.2 L420.6,103.3 L421.1,102.3 L421.6,101.2 L422.1,100.4 L422.6,99.1 L423.1,98.9 L423.6,98.4 L424.1,95.1 L424.6,95.1 L425.1,93.8 L425.6,93.1 L426.1,90.9 L426.6,90.1 L427.1,88.3 L427.6,88.3 L428.1,87.0 L428.6,86.0 L429.1,85.7 L429.6,84.6 L430.1,83.1 L430.6,83.8 L431.1,82.9 L431.6,81.6 L432.1,81.3 L432.6,80.3 L433.1,77.6 L433.6,76.8 L434.1,77.5 L434.6,76.7 L435.1,74.6 L435.6,73.7 L436.1,73.5 L436.6,73.1 L437.1,71.9 L437.6,72.6 L438.1,71.3 L438.6,71.0 L439.1,72.1 L439.6,70.8 L440.1,71.0 L440.6,71.3 L441.1,71.4 L441.6,70.5 L442.1,70.7 L442.6,70.1 L443.1,71.7 L443.6,70.9 L444.1,69.7 L444.6,70.3 L445.1,70.6 L445.6,70.2 L446.1,70.9 L446.6,70.4 L447.1,69.3 L447.6,72.4 L448.1,74.4 L448.6,76.3 L449.1,77.0 L449.6,79.2 L450.1,78.0 L450.6,76.9 L451.1,78.1 L451.6,78.8 L452.1,78.1 L452.6,78.5 L453.1,79.0 L453.6,79.8 L454.1,81.2 L454.6,83.5 L455.1,87.2 L455.6,88.1 L456.1,89.6 L456.6,90.4 L457.1,92.0 L457.6,94.2 L458.1,93.8 L458.6,95.8 L459.1,97.3 L459.6,97.6 L460.1,98.9 L460.6,98.9 L461.1,101.3 L461.6,102.0 L462.1,102.3 L462.6,101.9 L463.1,103.3 L463.6,105.5 L464.1,106.8 L464.6,106.7 L465.1,108.0 L465.6,107.3 L466.1,108.0 L466.6,108.5 L467.1,109.2 L467.6,108.2 L468.1,110.2 L468.6,110.9 L469.1,109.9 L469.6,110.6 L470.1,112.7 L470.6,113.1 L471.1,113.1 L471.6,116.2 L472.1,116.8 L472.6,117.2 L473.1,119.6 L473.6,119.1 L474.1,119.2 L474.6,120.5 L475.1,120.4 L475.6,121.2 L476.1,122.6 L476.6,122.6 L477.1,123.2 L477.6,125.2 L478.1,125.3 L478.6,125.8 L479.1,126.2 L479.6,126.7 L480.1,127.9 L480.6,127.4 L481.1,129.2 L481.6,127.8 L482.1,128.8 L482.6,128.5 L483.1,129.7 L483.6,130.7 L484.1,131.7 L484.6,130.7 L485.1,131.6 L485.6,131.7 L486.1,131.9 L486.6,131.9 L487.1,133.1 L487.6,132.3 L488.1,133.9 L488.6,134.1 L489.1,134.0 L489.6,134.1 L490.1,134.2 L490.6,136.6 L491.1,134.8 L491.6,137.0 L492.1,136.7 L492.6,136.3 L493.1,136.0 L493.6,137.7 L494.1,138.4 L494.6,136.9 L495.1,137.6 L495.6,138.7 L496.1,138.4 L496.6,139.7 L497.1,138.3 L497.6,139.2 L498.1,138.3 L498.6,140.6 L499.1,139.0 L499.6,138.2 L500.1,139.7 L500.6,139.9 L501.1,141.3 L501.6,140.0 L502.1,140.4 L502.6,140.9 L503.1,141.7 L503.6,140.7 L504.1,141.5 L504.6,141.3 L505.1,140.9 L505.6,141.2 L506.1,141.3 L506.6,140.7 L507.1,142.2 L507.6,140.6 L508.1,142.4 L508.6,142.3 L509.1,141.7 L509.6,141.4 L510.1,141.8 L510.6,142.3 L511.1,142.6 L511.6,142.4 L512.1,142.9 L512.6,142.0 L513.1,142.6 L513.6,141.5 L514.1,143.1 L514.6,142.8 L515.1,142.5 L515.6,143.6 L516.1,143.4 L516.6,141.2 L517.1,143.1 L517.6,142.2 L518.1,144.0 L518.6,145.0 L519.1,143.1 L519.6,143.5 L520.1,143.4 L520.6,143.8 L521.1,144.1 L521.6,144.6 L522.1,143.1 L522.6,144.9 L523.1,143.3 L523.6,144.1 L524.1,144.8 L524.6,144.5 L525.1,143.5 L525.6,143.7 L526.1,143.9 L526.6,144.2 L527.1,145.1 L527.6,143.5 L528.1,144.7 L528.6,144.9 L529.1,144.9 L529.6,144.8 L530.1,145.6" fill="none" stroke="#bb4a4d" stroke-width="1.8" stroke-linejoin="round"/>
<path d="M312.6,159.8 L313.1,160.5 L313.6,160.7 L314.1,161.9 L314.6,159.8 L315.1,162.2 L315.6,161.6 L316.1,161.9 L316.6,161.8 L317.1,161.5 L317.6,162.8 L318.1,163.0 L318.6,164.0 L319.1,163.0 L319.6,165.1 L320.1,164.4 L320.6,163.1 L321.1,160.0 L321.6,156.9 L322.1,152.7 L322.6,149.8 L323.1,150.7 L323.6,154.8 L324.1,158.5 L324.6,161.9 L325.1,163.1 L325.6,164.6 L326.1,166.3 L326.6,166.1 L327.1,165.9 L327.6,165.4 L328.1,165.8 L328.6,165.9 L329.1,167.6 L329.6,166.8 L330.1,167.5 L330.6,167.2 L331.1,167.8 L331.6,168.8 L332.1,167.5 L332.6,167.9 L333.1,167.6 L333.6,168.8 L334.1,167.7 L334.6,167.7 L335.1,167.6 L335.6,167.6 L336.1,168.9 L336.6,170.4 L337.1,168.1 L337.6,169.4 L338.1,169.0 L338.6,168.2 L339.1,168.8 L339.6,168.9 L340.1,168.7 L340.6,170.4 L341.1,168.0 L341.6,169.6 L342.1,169.6 L342.6,169.0 L343.1,169.6 L343.6,170.1 L344.1,169.7 L344.6,169.9 L345.1,170.1 L345.6,168.4 L346.1,170.7 L346.6,171.3 L347.1,170.5 L347.6,170.6 L348.1,169.1 L348.6,169.9 L349.1,169.5 L349.6,169.7 L350.1,170.8 L350.6,169.7 L351.1,170.1 L351.6,169.0 L352.1,170.2 L352.6,170.4 L353.1,169.9 L353.6,169.9 L354.1,171.7 L354.6,169.7 L355.1,169.8 L355.6,170.0 L356.1,171.4 L356.6,172.0 L357.1,170.9 L357.6,170.2 L358.1,170.5 L358.6,171.5 L359.1,170.2 L359.6,171.8 L360.1,171.8 L360.6,171.0 L361.1,171.4 L361.6,171.5 L362.1,172.0 L362.6,170.3 L363.1,171.8 L363.6,170.8 L364.1,170.6 L364.6,171.2 L365.1,171.0 L365.6,170.5 L366.1,170.1 L366.6,170.6 L367.1,172.1 L367.6,172.5 L368.1,171.6 L368.6,172.0 L369.1,170.9 L369.6,171.1 L370.1,171.3 L370.6,170.4 L371.1,170.5 L371.6,171.1 L372.1,170.8 L372.6,170.3 L373.1,171.2 L373.6,170.7 L374.1,171.5 L374.6,170.7 L375.1,170.5 L375.6,170.7 L376.1,170.4 L376.6,170.0 L377.1,170.1 L377.6,170.8 L378.1,170.7 L378.6,171.0 L379.1,169.0 L379.6,169.8 L380.1,169.7 L380.6,170.0 L381.1,169.5 L381.6,169.3 L382.1,170.1 L382.6,169.6 L383.1,168.6 L383.6,170.1 L384.1,169.7 L384.6,168.5 L385.1,169.3 L385.6,168.1 L386.1,169.2 L386.6,168.2 L387.1,167.6 L387.6,167.8 L388.1,167.3 L388.6,167.8 L389.1,167.6 L389.6,167.3 L390.1,166.7 L390.6,164.5 L391.1,166.7 L391.6,165.2 L392.1,166.4 L392.6,166.8 L393.1,166.0 L393.6,165.3 L394.1,165.2 L394.6,165.0 L395.1,164.4 L395.6,164.1 L396.1,163.6 L396.6,164.7 L397.1,163.6 L397.6,163.9 L398.1,162.7 L398.6,162.6 L399.1,162.0 L399.6,162.1 L400.1,161.9 L400.6,161.1 L401.1,160.1 L401.6,159.6 L402.1,160.8 L402.6,159.1 L403.1,158.6 L403.6,159.3 L404.1,158.7 L404.6,157.9 L405.1,156.8 L405.6,158.1 L406.1,156.3 L406.6,155.9 L407.1,154.9 L407.6,153.6 L408.1,153.1 L408.6,153.6 L409.1,153.1 L409.6,152.1 L410.1,151.0 L410.6,150.3 L411.1,150.5 L411.6,149.3 L412.1,150.3 L412.6,150.0 L413.1,150.6 L413.6,148.8 L414.1,147.3 L414.6,146.6 L415.1,144.2 L415.6,145.4 L416.1,145.0 L416.6,145.0 L417.1,144.0 L417.6,143.2 L418.1,142.2 L418.6,141.7 L419.1,141.4 L419.6,139.0 L420.1,138.5 L420.6,137.1 L421.1,138.2 L421.6,137.0 L422.1,135.8 L422.6,133.6 L423.1,133.5 L423.6,132.3 L424.1,131.6 L424.6,130.5 L425.1,130.1 L425.6,128.6 L426.1,128.5 L426.6,127.3 L427.1,126.0 L427.6,125.3 L428.1,124.2 L428.6,124.2 L429.1,122.7 L429.6,122.3 L430.1,121.2 L430.6,119.9 L431.1,120.9 L431.6,119.1 L432.1,119.9 L432.6,119.3 L433.1,117.6 L433.6,117.8 L434.1,117.7 L434.6,117.1 L435.1,116.5 L435.6,117.3 L436.1,116.2 L436.6,115.8 L437.1,114.2 L437.6,113.9 L438.1,113.1 L438.6,114.6 L439.1,116.3 L439.6,116.6 L440.1,116.6 L440.6,116.4 L441.1,117.4 L441.6,117.5 L442.1,117.1 L442.6,116.5 L443.1,117.1 L443.6,118.0 L444.1,115.8 L444.6,115.9 L445.1,115.7 L445.6,113.6 L446.1,115.3 L446.6,115.4 L447.1,117.9 L447.6,118.2 L448.1,120.2 L448.6,123.4 L449.1,125.5 L449.6,125.3 L450.1,125.7 L450.6,125.0 L451.1,125.8 L451.6,126.5 L452.1,127.3 L452.6,126.2 L453.1,122.0 L453.6,123.5 L454.1,128.8 L454.6,133.0 L455.1,136.1 L455.6,137.6 L456.1,138.8 L456.6,139.4 L457.1,140.0 L457.6,140.3 L458.1,140.0 L458.6,139.5 L459.1,140.8 L459.6,140.4 L460.1,142.4 L460.6,143.2 L461.1,143.1 L461.6,145.7 L462.1,147.0 L462.6,147.6 L463.1,149.7 L463.6,150.8 L464.1,149.9 L464.6,152.5 L465.1,153.2 L465.6,154.0 L466.1,155.0 L466.6,154.1 L467.1,154.1 L467.6,153.8 L468.1,153.6 L468.6,153.6 L469.1,151.9 L469.6,151.9 L470.1,154.9 L470.6,156.5 L471.1,158.1 L471.6,157.7 L472.1,159.4 L472.6,160.4 L473.1,161.6 L473.6,161.9 L474.1,163.6 L474.6,163.6 L475.1,164.2 L475.6,164.8 L476.1,165.8 L476.6,165.5 L477.1,167.1 L477.6,167.1 L478.1,167.4 L478.6,167.8 L479.1,168.6 L479.6,169.3 L480.1,169.7 L480.6,169.7 L481.1,170.3 L481.6,170.2 L482.1,171.2 L482.6,170.7 L483.1,169.6 L483.6,172.1 L484.1,171.6 L484.6,171.0 L485.1,171.9 L485.6,171.7 L486.1,173.9 L486.6,173.1 L487.1,172.0 L487.6,173.6 L488.1,173.2 L488.6,174.9 L489.1,173.2 L489.6,172.6 L490.1,174.4 L490.6,174.3 L491.1,174.5 L491.6,173.6 L492.1,175.4 L492.6,176.5 L493.1,174.3 L493.6,176.5 L494.1,175.6 L494.6,177.7 L495.1,176.6 L495.6,176.4 L496.1,177.4 L496.6,177.2 L497.1,176.7 L497.6,177.7 L498.1,177.1 L498.6,176.4 L499.1,179.1 L499.6,177.7 L500.1,177.7 L500.6,178.5 L501.1,177.4 L501.6,177.7 L502.1,178.4 L502.6,178.5 L503.1,179.0 L503.6,179.9 L504.1,179.0 L504.6,179.7 L505.1,180.0 L505.6,179.0 L506.1,180.0 L506.6,179.4 L507.1,180.8 L507.6,180.6 L508.1,180.4 L508.6,179.7 L509.1,180.8 L509.6,180.4 L510.1,181.5 L510.6,181.1 L511.1,180.8 L511.6,182.0 L512.1,182.0 L512.6,181.3 L513.1,182.6 L513.6,181.8 L514.1,181.9 L514.6,182.3 L515.1,181.8 L515.6,182.1 L516.1,182.4 L516.6,183.6 L517.1,183.7 L517.6,182.6 L518.1,183.9 L518.6,182.9 L519.1,183.3 L519.6,183.7 L520.1,183.4 L520.6,184.9 L521.1,183.5 L521.6,182.7 L522.1,184.4 L522.6,183.4 L523.1,183.5 L523.6,181.8 L524.1,184.5 L524.6,184.5 L525.1,184.5 L525.6,184.7 L526.1,185.2 L526.6,184.1 L527.1,184.8 L527.6,183.8 L528.1,184.1 L528.6,185.1 L529.1,184.7 L529.6,183.6 L530.1,184.7" fill="none" stroke="#07a04f" stroke-width="1.8" stroke-linejoin="round"/>
<path d="M312,38.5 V189.5 H530.5" fill="none" stroke="#000" stroke-width="2.0"/>
<path d="M309.4,38.5 H312 M309.4,63.7 H312 M309.4,88.8 H312 M309.4,114.0 H312 M309.4,139.2 H312 M309.4,164.3 H312 M309.4,189.5 H312 M312.0,189.5 V192.3 M355.7,189.5 V192.3 M399.4,189.5 V192.3 M443.1,189.5 V192.3 M486.8,189.5 V192.3 M530.5,189.5 V192.3" stroke="#000" stroke-width="1.7"/>
<text class="b" x="312.0" y="204" font-size="9.2" text-anchor="middle">5</text>
<text class="b" x="355.7" y="204" font-size="9.2" text-anchor="middle">10</text>
<text class="b" x="399.4" y="204" font-size="9.2" text-anchor="middle">15</text>
<text class="b" x="443.1" y="204" font-size="9.2" text-anchor="middle">20</text>
<text class="b" x="486.8" y="204" font-size="9.2" text-anchor="middle">25</text>
<text class="b" x="530.5" y="204" font-size="9.2" text-anchor="middle">30</text>
<text class="b" x="421.2" y="217.6" font-size="9.4" text-anchor="middle">2θ (degree)</text>
<text class="b" transform="translate(290.4,106.7) rotate(-90)" x="0" y="3" font-size="9.25" text-anchor="middle">Relative Intensity(a.u.)</text>
<text class="b" x="287.1" y="45.7" font-size="13.5">b</text>
<text class="b" x="483.9" y="89.7" font-size="9.2">Control (1 day)</text>
<text class="b" x="488.7" y="129.2" font-size="9.2">120-1 (1 day)</text>
<text class="b" x="490.4" y="170.4" font-size="9.2">120-2 (1 day)</text>
<text transform="translate(327.5,102.1) rotate(-90) scale(1,1.0)" x="0" y="0" font-size="8.5" stroke="#000" stroke-width="0.15"><tspan font-style="italic">d</tspan> = 1.41 nm</text>
<text transform="translate(440.7,43.9) rotate(-90) scale(1,1.0)" x="0" y="0" font-size="8.5" stroke="#000" stroke-width="0.15"><tspan font-style="italic">d</tspan> = 0.46 nm</text>
<text transform="translate(451.6,44.7) rotate(-90) scale(1,1.0)" x="0" y="0" font-size="8.5" stroke="#000" stroke-width="0.15"><tspan font-style="italic">d</tspan> = 0.43 nm</text>
<text transform="translate(470.6,73) rotate(-90) scale(1,1.0)" x="0" y="0" font-size="8.5" stroke="#000" stroke-width="0.15"><tspan font-style="italic">d</tspan> = 0.39 nm</text>
<text transform="translate(478.2,74.4) rotate(-90) scale(1,1.0)" x="0" y="0" font-size="8.5" stroke="#000" stroke-width="0.15"><tspan font-style="italic">d</tspan> = 0.38 nm</text>
<path d="M30.6,355.4 L31.1,355.0 L31.6,355.8 L32.1,355.2 L32.6,354.4 L33.1,354.7 L33.6,356.5 L34.1,354.3 L34.6,355.4 L35.1,355.5 L35.6,355.5 L36.1,354.2 L36.6,354.7 L37.1,354.9 L37.6,355.2 L38.1,354.2 L38.6,353.7 L39.1,354.9 L39.6,354.6 L40.1,353.5 L40.6,351.8 L41.1,351.6 L41.6,350.6 L42.1,350.8 L42.6,350.2 L43.1,352.2 L43.6,352.9 L44.1,353.0 L44.6,354.5 L45.1,354.9 L45.6,354.9 L46.1,355.6 L46.6,354.6 L47.1,355.7 L47.6,356.1 L48.1,356.0 L48.6,356.5 L49.1,355.0 L49.6,354.7 L50.1,355.8 L50.6,355.9 L51.1,356.9 L51.6,355.9 L52.1,354.9 L52.6,355.9 L53.1,354.7 L53.6,354.3 L54.1,356.9 L54.6,355.4 L55.1,355.6 L55.6,355.4 L56.1,356.2 L56.6,355.2 L57.1,355.7 L57.6,354.2 L58.1,354.0 L58.6,355.7 L59.1,355.7 L59.6,355.1 L60.1,354.9 L60.6,354.8 L61.1,354.2 L61.6,355.6 L62.1,355.0 L62.6,354.8 L63.1,354.7 L63.6,355.1 L64.1,354.7 L64.6,354.9 L65.1,353.6 L65.6,354.6 L66.1,355.7 L66.6,353.9 L67.1,354.1 L67.6,354.7 L68.1,354.7 L68.6,354.5 L69.1,353.0 L69.6,354.3 L70.1,353.1 L70.6,353.3 L71.1,354.2 L71.6,353.6 L72.1,354.2 L72.6,355.7 L73.1,354.1 L73.6,354.0 L74.1,352.9 L74.6,353.0 L75.1,352.7 L75.6,353.0 L76.1,352.6 L76.6,352.8 L77.1,353.0 L77.6,352.4 L78.1,352.1 L78.6,352.1 L79.1,353.2 L79.6,352.9 L80.1,353.5 L80.6,353.4 L81.1,352.4 L81.6,353.0 L82.1,351.6 L82.6,353.9 L83.1,353.2 L83.6,352.2 L84.1,351.5 L84.6,352.5 L85.1,350.9 L85.6,351.6 L86.1,352.5 L86.6,352.0 L87.1,351.6 L87.6,352.4 L88.1,351.1 L88.6,351.9 L89.1,351.3 L89.6,351.0 L90.1,351.8 L90.6,350.8 L91.1,352.7 L91.6,351.0 L92.1,352.6 L92.6,350.6 L93.1,351.6 L93.6,350.4 L94.1,350.2 L94.6,351.2 L95.1,351.4 L95.6,350.1 L96.1,351.6 L96.6,350.3 L97.1,350.8 L97.6,350.9 L98.1,351.0 L98.6,349.4 L99.1,351.5 L99.6,350.7 L100.1,350.0 L100.6,349.5 L101.1,349.0 L101.6,349.1 L102.1,350.2 L102.6,349.4 L103.1,348.8 L103.6,349.0 L104.1,350.2 L104.6,348.8 L105.1,348.4 L105.6,349.5 L106.1,348.8 L106.6,348.3 L107.1,347.7 L107.6,346.9 L108.1,347.0 L108.6,347.2 L109.1,347.2 L109.6,347.4 L110.1,347.3 L110.6,346.9 L111.1,346.7 L111.6,345.8 L112.1,344.8 L112.6,345.7 L113.1,345.2 L113.6,345.2 L114.1,345.2 L114.6,344.4 L115.1,344.2 L115.6,344.7 L116.1,344.6 L116.6,343.9 L117.1,344.4 L117.6,343.7 L118.1,343.0 L118.6,343.5 L119.1,344.4 L119.6,342.5 L120.1,343.5 L120.6,343.4 L121.1,343.3 L121.6,341.5 L122.1,343.1 L122.6,341.6 L123.1,341.1 L123.6,340.9 L124.1,341.1 L124.6,340.5 L125.1,340.0 L125.6,340.6 L126.1,339.0 L126.6,338.4 L127.1,339.2 L127.6,338.7 L128.1,338.5 L128.6,336.6 L129.1,337.5 L129.6,336.5 L130.1,336.8 L130.6,334.2 L131.1,334.5 L131.6,333.5 L132.1,332.0 L132.6,331.9 L133.1,332.5 L133.6,330.9 L134.1,330.2 L134.6,330.7 L135.1,330.2 L135.6,329.6 L136.1,327.9 L136.6,327.7 L137.1,327.7 L137.6,325.9 L138.1,325.1 L138.6,325.3 L139.1,325.0 L139.6,322.5 L140.1,320.8 L140.6,320.7 L141.1,320.2 L141.6,320.0 L142.1,319.6 L142.6,318.3 L143.1,317.1 L143.6,316.9 L144.1,315.3 L144.6,315.1 L145.1,314.0 L145.6,315.3 L146.1,313.4 L146.6,311.6 L147.1,310.7 L147.6,310.4 L148.1,308.9 L148.6,308.8 L149.1,308.1 L149.6,308.4 L150.1,306.9 L150.6,306.0 L151.1,304.9 L151.6,304.4 L152.1,304.4 L152.6,303.6 L153.1,303.9 L153.6,302.1 L154.1,302.6 L154.6,301.5 L155.1,300.7 L155.6,298.7 L156.1,298.5 L156.6,299.1 L157.1,298.6 L157.6,296.8 L158.1,296.0 L158.6,294.0 L159.1,292.5 L159.6,290.7 L160.1,289.6 L160.6,286.1 L161.1,283.2 L161.6,282.3 L162.1,283.5 L162.6,284.6 L163.1,285.3 L163.6,288.4 L164.1,288.4 L164.6,288.8 L165.1,290.2 L165.6,290.3 L166.1,290.0 L166.6,290.7 L167.1,289.9 L167.6,290.4 L168.1,289.5 L168.6,291.9 L169.1,289.9 L169.6,291.7 L170.1,290.8 L170.6,290.8 L171.1,291.5 L171.6,292.2 L172.1,293.2 L172.6,294.8 L173.1,295.0 L173.6,296.5 L174.1,296.7 L174.6,298.7 L175.1,299.5 L175.6,300.1 L176.1,301.1 L176.6,301.8 L177.1,302.5 L177.6,303.3 L178.1,303.2 L178.6,303.6 L179.1,305.1 L179.6,304.1 L180.1,305.4 L180.6,307.4 L181.1,305.3 L181.6,307.3 L182.1,308.9 L182.6,308.2 L183.1,311.6 L183.6,308.9 L184.1,312.2 L184.6,312.8 L185.1,312.9 L185.6,312.8 L186.1,313.7 L186.6,313.5 L187.1,315.1 L187.6,314.3 L188.1,315.1 L188.6,316.1 L189.1,314.8 L189.6,315.2 L190.1,315.3 L190.6,314.1 L191.1,315.2 L191.6,313.8 L192.1,312.0 L192.6,313.1 L193.1,313.7 L193.6,315.4 L194.1,317.7 L194.6,318.7 L195.1,320.7 L195.6,320.3 L196.1,322.1 L196.6,322.0 L197.1,323.1 L197.6,322.7 L198.1,323.1 L198.6,323.2 L199.1,324.7 L199.6,325.3 L200.1,326.5 L200.6,326.4 L201.1,326.2 L201.6,326.3 L202.1,327.1 L202.6,327.3 L203.1,328.7 L203.6,328.8 L204.1,328.0 L204.6,328.6 L205.1,330.3 L205.6,330.0 L206.1,330.1 L206.6,331.4 L207.1,330.7 L207.6,331.2 L208.1,331.4 L208.6,330.8 L209.1,333.0 L209.6,332.0 L210.1,332.8 L210.6,333.0 L211.1,334.3 L211.6,334.1 L212.1,334.5 L212.6,333.7 L213.1,335.0 L213.6,334.4 L214.1,335.9 L214.6,336.2 L215.1,336.3 L215.6,337.9 L216.1,337.2 L216.6,337.5 L217.1,337.5 L217.6,337.5 L218.1,338.5 L218.6,338.9 L219.1,337.5 L219.6,339.3 L220.1,339.2 L220.6,339.7 L221.1,339.6 L221.6,338.7 L222.1,338.9 L222.6,341.1 L223.1,340.3 L223.6,339.4 L224.1,340.7 L224.6,340.4 L225.1,339.7 L225.6,339.6 L226.1,340.2 L226.6,341.5 L227.1,341.5 L227.6,341.5 L228.1,342.0 L228.6,342.4 L229.1,340.8 L229.6,342.1 L230.1,341.9 L230.6,341.8 L231.1,342.3 L231.6,342.7 L232.1,342.8 L232.6,342.1 L233.1,342.9 L233.6,344.6 L234.1,342.7 L234.6,342.4 L235.1,343.8 L235.6,344.1 L236.1,344.1 L236.6,343.1 L237.1,344.6 L237.6,343.5 L238.1,343.4 L238.6,343.8 L239.1,344.2 L239.6,344.7 L240.1,344.8 L240.6,344.4 L241.1,345.1 L241.6,344.6 L242.1,345.2 L242.6,343.7 L243.1,343.7 L243.6,345.3 L244.1,344.0 L244.6,344.8 L245.1,345.0 L245.6,344.8 L246.1,344.9 L246.6,346.2 L247.1,343.7 L247.6,346.0 L248.1,347.1 L248.6,345.7 L249.1,345.7 L249.6,346.3 L250.1,347.1 L250.6,345.3 L251.1,346.2 L251.6,346.1 L252.1,346.7 L252.6,346.5 L253.1,346.9 L253.6,346.3 L254.1,346.7 L254.6,346.3 L255.1,346.3 L255.6,346.7 L256.1,346.8 L256.6,346.2 L257.1,348.0" fill="none" stroke="#000" stroke-width="1.8" stroke-linejoin="round"/>
<path d="M30.5,378.8 L31.0,378.0 L31.5,379.6 L32.0,378.4 L32.5,379.2 L33.0,378.9 L33.5,379.1 L34.0,379.0 L34.5,378.5 L35.0,378.9 L35.5,380.2 L36.0,377.4 L36.5,378.9 L37.0,379.2 L37.5,378.2 L38.0,378.0 L38.5,380.3 L39.0,378.4 L39.5,379.2 L40.0,376.9 L40.5,375.0 L41.0,371.5 L41.5,367.9 L42.0,369.8 L42.5,373.5 L43.0,375.7 L43.5,377.2 L44.0,379.1 L44.5,379.4 L45.0,378.2 L45.5,378.5 L46.0,379.1 L46.5,378.5 L47.0,378.6 L47.5,378.3 L48.0,378.7 L48.5,379.1 L49.0,379.5 L49.5,378.8 L50.0,380.2 L50.5,378.8 L51.0,380.9 L51.5,379.4 L52.0,379.1 L52.5,378.4 L53.0,376.9 L53.5,378.6 L54.0,378.8 L54.5,379.9 L55.0,377.7 L55.5,379.9 L56.0,378.4 L56.5,379.0 L57.0,376.9 L57.5,378.6 L58.0,378.3 L58.5,378.9 L59.0,378.5 L59.5,377.7 L60.0,379.0 L60.5,378.8 L61.0,378.7 L61.5,379.0 L62.0,379.0 L62.5,378.2 L63.0,377.3 L63.5,377.3 L64.0,379.0 L64.5,378.5 L65.0,378.1 L65.5,377.7 L66.0,377.9 L66.5,377.9 L67.0,377.6 L67.5,377.3 L68.0,379.1 L68.5,377.8 L69.0,377.2 L69.5,376.7 L70.0,377.0 L70.5,377.9 L71.0,377.9 L71.5,377.2 L72.0,377.3 L72.5,377.0 L73.0,376.4 L73.5,377.9 L74.0,377.3 L74.5,378.6 L75.0,376.4 L75.5,376.8 L76.0,377.4 L76.5,376.6 L77.0,375.8 L77.5,376.0 L78.0,376.6 L78.5,376.7 L79.0,376.4 L79.5,377.0 L80.0,376.9 L80.5,376.4 L81.0,376.2 L81.5,375.9 L82.0,376.4 L82.5,376.5 L83.0,375.9 L83.5,376.1 L84.0,375.5 L84.5,374.7 L85.0,374.9 L85.5,376.0 L86.0,375.7 L86.5,376.4 L87.0,375.3 L87.5,375.7 L88.0,376.0 L88.5,375.7 L89.0,374.5 L89.5,374.7 L90.0,374.9 L90.5,374.1 L91.0,374.9 L91.5,375.2 L92.0,374.1 L92.5,375.6 L93.0,374.1 L93.5,374.1 L94.0,373.9 L94.5,373.6 L95.0,374.2 L95.5,373.8 L96.0,374.8 L96.5,374.0 L97.0,373.9 L97.5,373.3 L98.0,372.4 L98.5,373.2 L99.0,372.6 L99.5,373.6 L100.0,372.9 L100.5,373.9 L101.0,373.1 L101.5,373.1 L102.0,372.6 L102.5,372.4 L103.0,372.6 L103.5,372.6 L104.0,371.4 L104.5,372.0 L105.0,373.2 L105.5,371.3 L106.0,371.1 L106.5,370.6 L107.0,369.9 L107.5,371.5 L108.0,370.6 L108.5,370.6 L109.0,371.4 L109.5,371.6 L110.0,369.2 L110.5,370.3 L111.0,369.8 L111.5,369.5 L112.0,369.3 L112.5,368.8 L113.0,369.6 L113.5,368.8 L114.0,368.4 L114.5,368.7 L115.0,368.3 L115.5,367.7 L116.0,367.4 L116.5,368.1 L117.0,367.0 L117.5,366.3 L118.0,365.5 L118.5,365.5 L119.0,364.7 L119.5,365.1 L120.0,364.9 L120.5,363.0 L121.0,364.0 L121.5,364.0 L122.0,363.3 L122.5,362.2 L123.0,363.3 L123.5,361.7 L124.0,361.0 L124.5,360.8 L125.0,361.2 L125.5,361.6 L126.0,361.4 L126.5,360.4 L127.0,359.2 L127.5,359.2 L128.0,358.8 L128.5,358.9 L129.0,357.5 L129.5,358.4 L130.0,358.3 L130.5,357.4 L131.0,357.5 L131.5,356.1 L132.0,355.4 L132.5,355.5 L133.0,356.3 L133.5,355.7 L134.0,354.3 L134.5,354.9 L135.0,353.5 L135.5,354.2 L136.0,353.0 L136.5,351.9 L137.0,352.2 L137.5,350.6 L138.0,350.0 L138.5,349.0 L139.0,349.5 L139.5,348.6 L140.0,347.9 L140.5,347.0 L141.0,347.3 L141.5,345.2 L142.0,344.0 L142.5,344.3 L143.0,343.5 L143.5,341.8 L144.0,339.6 L144.5,339.5 L145.0,339.5 L145.5,338.3 L146.0,338.5 L146.5,335.8 L147.0,336.3 L147.5,334.7 L148.0,335.2 L148.5,333.5 L149.0,333.4 L149.5,331.5 L150.0,330.1 L150.5,329.6 L151.0,329.1 L151.5,328.1 L152.0,328.9 L152.5,328.4 L153.0,327.1 L153.5,325.7 L154.0,325.7 L154.5,324.6 L155.0,325.0 L155.5,323.1 L156.0,322.0 L156.5,320.2 L157.0,318.0 L157.5,318.0 L158.0,317.1 L158.5,317.6 L159.0,317.0 L159.5,316.0 L160.0,315.9 L160.5,316.8 L161.0,314.8 L161.5,314.5 L162.0,314.7 L162.5,314.1 L163.0,314.0 L163.5,314.3 L164.0,314.9 L164.5,312.4 L165.0,313.3 L165.5,313.2 L166.0,312.8 L166.5,312.4 L167.0,311.9 L167.5,312.1 L168.0,310.2 L168.5,309.3 L169.0,308.1 L169.5,306.8 L170.0,305.1 L170.5,303.3 L171.0,301.3 L171.5,302.1 L172.0,303.3 L172.5,304.2 L173.0,305.6 L173.5,306.2 L174.0,307.6 L174.5,307.4 L175.0,307.6 L175.5,308.8 L176.0,309.4 L176.5,308.4 L177.0,311.3 L177.5,311.4 L178.0,312.9 L178.5,315.3 L179.0,316.0 L179.5,317.0 L180.0,320.2 L180.5,319.3 L181.0,321.2 L181.5,323.0 L182.0,322.8 L182.5,324.5 L183.0,325.8 L183.5,328.1 L184.0,326.9 L184.5,328.2 L185.0,329.4 L185.5,329.5 L186.0,329.2 L186.5,330.6 L187.0,330.8 L187.5,331.3 L188.0,332.1 L188.5,332.3 L189.0,332.2 L189.5,332.4 L190.0,331.8 L190.5,332.7 L191.0,333.1 L191.5,333.0 L192.0,333.6 L192.5,333.3 L193.0,335.4 L193.5,336.5 L194.0,335.7 L194.5,337.2 L195.0,337.8 L195.5,339.9 L196.0,340.5 L196.5,341.8 L197.0,343.4 L197.5,345.4 L198.0,346.2 L198.5,348.4 L199.0,348.4 L199.5,350.0 L200.0,350.4 L200.5,351.7 L201.0,351.6 L201.5,352.8 L202.0,352.1 L202.5,353.5 L203.0,353.4 L203.5,354.1 L204.0,354.5 L204.5,355.5 L205.0,353.9 L205.5,355.8 L206.0,355.0 L206.5,357.1 L207.0,355.4 L207.5,356.3 L208.0,356.2 L208.5,358.7 L209.0,357.1 L209.5,358.3 L210.0,358.1 L210.5,357.6 L211.0,358.8 L211.5,359.7 L212.0,359.4 L212.5,360.4 L213.0,359.8 L213.5,360.3 L214.0,360.2 L214.5,361.0 L215.0,362.2 L215.5,361.4 L216.0,361.6 L216.5,361.2 L217.0,361.4 L217.5,363.0 L218.0,361.6 L218.5,361.9 L219.0,362.6 L219.5,362.6 L220.0,364.3 L220.5,361.7 L221.0,363.7 L221.5,364.1 L222.0,363.1 L222.5,363.6 L223.0,364.4 L223.5,365.4 L224.0,363.9 L224.5,363.6 L225.0,365.5 L225.5,366.0 L226.0,365.0 L226.5,363.9 L227.0,366.5 L227.5,365.5 L228.0,366.6 L228.5,366.0 L229.0,365.9 L229.5,366.0 L230.0,367.4 L230.5,367.5 L231.0,365.3 L231.5,366.2 L232.0,368.1 L232.5,366.8 L233.0,366.3 L233.5,367.3 L234.0,367.3 L234.5,367.4 L235.0,367.3 L235.5,367.5 L236.0,367.5 L236.5,368.1 L237.0,367.4 L237.5,367.8 L238.0,368.0 L238.5,369.0 L239.0,368.5 L239.5,368.2 L240.0,368.7 L240.5,368.7 L241.0,369.2 L241.5,368.9 L242.0,369.8 L242.5,369.6 L243.0,368.7 L243.5,368.6 L244.0,369.5 L244.5,369.3 L245.0,369.0 L245.5,368.1 L246.0,367.9 L246.5,369.4 L247.0,369.8 L247.5,369.8 L248.0,368.5 L248.5,370.1 L249.0,369.1 L249.5,369.8 L250.0,369.9 L250.5,369.1 L251.0,369.3 L251.5,368.4 L252.0,369.2 L252.5,368.7 L253.0,370.2 L253.5,370.0 L254.0,370.6 L254.5,370.2 L255.0,369.6 L255.5,370.3 L256.0,369.9 L256.5,370.6" fill="none" stroke="#bb4a4d" stroke-width="1.8" stroke-linejoin="round"/>
<path d="M30.3,392.0 L30.8,391.5 L31.3,392.4 L31.8,392.8 L32.3,392.8 L32.8,393.9 L33.3,394.8 L33.8,393.7 L34.3,394.1 L34.8,393.2 L35.3,395.0 L35.8,395.3 L36.3,394.6 L36.8,396.5 L37.3,397.1 L37.8,396.5 L38.3,396.8 L38.8,396.3 L39.3,395.9 L39.8,391.7 L40.3,388.9 L40.8,381.5 L41.3,374.4 L41.8,380.1 L42.3,387.9 L42.8,393.0 L43.3,396.6 L43.8,397.7 L44.3,397.4 L44.8,398.9 L45.3,399.9 L45.8,400.1 L46.3,398.6 L46.8,399.2 L47.3,399.0 L47.8,400.9 L48.3,400.8 L48.8,401.0 L49.3,400.1 L49.8,400.1 L50.3,401.0 L50.8,401.2 L51.3,400.7 L51.8,401.4 L52.3,401.8 L52.8,401.7 L53.3,400.9 L53.8,400.3 L54.3,401.6 L54.8,401.9 L55.3,401.8 L55.8,401.7 L56.3,401.6 L56.8,402.6 L57.3,402.2 L57.8,402.4 L58.3,401.8 L58.8,402.1 L59.3,402.7 L59.8,402.0 L60.3,402.0 L60.8,402.7 L61.3,403.8 L61.8,403.2 L62.3,404.1 L62.8,403.2 L63.3,403.2 L63.8,402.6 L64.3,403.2 L64.8,404.6 L65.3,404.0 L65.8,404.3 L66.3,404.4 L66.8,404.0 L67.3,404.0 L67.8,404.3 L68.3,404.7 L68.8,404.7 L69.3,404.7 L69.8,404.6 L70.3,404.0 L70.8,404.4 L71.3,404.0 L71.8,405.3 L72.3,403.3 L72.8,404.5 L73.3,406.3 L73.8,404.5 L74.3,404.0 L74.8,404.7 L75.3,405.5 L75.8,404.6 L76.3,405.1 L76.8,404.8 L77.3,404.4 L77.8,406.7 L78.3,404.7 L78.8,404.3 L79.3,404.4 L79.8,404.9 L80.3,404.9 L80.8,405.2 L81.3,404.7 L81.8,403.7 L82.3,405.0 L82.8,404.4 L83.3,404.4 L83.8,403.6 L84.3,404.2 L84.8,404.1 L85.3,404.6 L85.8,403.6 L86.3,404.6 L86.8,404.6 L87.3,403.8 L87.8,404.1 L88.3,404.0 L88.8,405.1 L89.3,402.8 L89.8,404.1 L90.3,403.1 L90.8,403.7 L91.3,404.3 L91.8,403.2 L92.3,403.4 L92.8,402.6 L93.3,404.1 L93.8,403.3 L94.3,403.2 L94.8,401.4 L95.3,401.4 L95.8,402.8 L96.3,401.9 L96.8,401.8 L97.3,402.2 L97.8,401.2 L98.3,402.5 L98.8,402.0 L99.3,402.3 L99.8,401.6 L100.3,402.3 L100.8,401.5 L101.3,402.6 L101.8,402.7 L102.3,402.6 L102.8,402.3 L103.3,402.4 L103.8,400.2 L104.3,402.4 L104.8,401.5 L105.3,401.6 L105.8,401.1 L106.3,400.2 L106.8,400.5 L107.3,401.0 L107.8,401.2 L108.3,399.6 L108.8,399.2 L109.3,400.4 L109.8,398.7 L110.3,400.3 L110.8,398.7 L111.3,397.7 L111.8,398.6 L112.3,398.7 L112.8,396.3 L113.3,397.8 L113.8,396.3 L114.3,397.0 L114.8,395.4 L115.3,394.3 L115.8,395.3 L116.3,395.2 L116.8,395.6 L117.3,395.0 L117.8,394.1 L118.3,393.1 L118.8,392.6 L119.3,392.4 L119.8,391.8 L120.3,391.8 L120.8,390.0 L121.3,391.4 L121.8,390.9 L122.3,392.1 L122.8,390.5 L123.3,389.3 L123.8,389.5 L124.3,387.8 L124.8,387.7 L125.3,386.4 L125.8,388.0 L126.3,386.9 L126.8,385.1 L127.3,385.2 L127.8,385.3 L128.3,384.3 L128.8,383.6 L129.3,382.1 L129.8,381.6 L130.3,381.3 L130.8,381.0 L131.3,379.0 L131.8,378.0 L132.3,378.6 L132.8,376.3 L133.3,376.7 L133.8,375.3 L134.3,374.8 L134.8,374.5 L135.3,372.9 L135.8,372.1 L136.3,370.2 L136.8,369.5 L137.3,369.5 L137.8,369.3 L138.3,368.4 L138.8,368.2 L139.3,366.0 L139.8,365.1 L140.3,364.7 L140.8,363.2 L141.3,362.2 L141.8,360.6 L142.3,360.9 L142.8,358.4 L143.3,358.2 L143.8,355.6 L144.3,355.8 L144.8,353.0 L145.3,352.9 L145.8,350.0 L146.3,349.5 L146.8,349.4 L147.3,346.9 L147.8,346.4 L148.3,345.0 L148.8,342.7 L149.3,343.4 L149.8,342.4 L150.3,340.3 L150.8,340.4 L151.3,338.4 L151.8,337.3 L152.3,336.9 L152.8,335.5 L153.3,336.6 L153.8,333.2 L154.3,333.8 L154.8,333.1 L155.3,330.4 L155.8,329.8 L156.3,330.6 L156.8,329.2 L157.3,329.0 L157.8,328.8 L158.3,327.0 L158.8,325.8 L159.3,324.0 L159.8,325.3 L160.3,324.0 L160.8,324.5 L161.3,324.2 L161.8,323.1 L162.3,325.3 L162.8,325.2 L163.3,325.4 L163.8,324.4 L164.3,325.3 L164.8,325.5 L165.3,325.7 L165.8,325.3 L166.3,326.2 L166.8,325.8 L167.3,325.6 L167.8,324.7 L168.3,325.0 L168.8,320.9 L169.3,315.2 L169.8,315.2 L170.3,316.9 L170.8,320.2 L171.3,322.4 L171.8,325.4 L172.3,327.7 L172.8,331.6 L173.3,333.4 L173.8,334.7 L174.3,334.3 L174.8,334.2 L175.3,332.1 L175.8,329.9 L176.3,330.0 L176.8,328.3 L177.3,329.0 L177.8,331.1 L178.3,335.1 L178.8,338.7 L179.3,342.0 L179.8,347.3 L180.3,350.2 L180.8,354.8 L181.3,356.1 L181.8,358.6 L182.3,359.1 L182.8,359.4 L183.3,363.0 L183.8,363.2 L184.3,364.3 L184.8,365.3 L185.3,366.8 L185.8,367.9 L186.3,367.8 L186.8,370.9 L187.3,371.1 L187.8,372.3 L188.3,374.7 L188.8,374.9 L189.3,374.7 L189.8,374.4 L190.3,376.3 L190.8,377.1 L191.3,377.0 L191.8,376.4 L192.3,376.5 L192.8,375.4 L193.3,375.3 L193.8,374.7 L194.3,374.1 L194.8,373.1 L195.3,375.6 L195.8,378.2 L196.3,380.1 L196.8,383.1 L197.3,386.9 L197.8,387.4 L198.3,389.4 L198.8,390.0 L199.3,391.6 L199.8,391.6 L200.3,393.8 L200.8,395.7 L201.3,397.2 L201.8,397.6 L202.3,398.1 L202.8,398.5 L203.3,398.8 L203.8,399.8 L204.3,400.9 L204.8,400.6 L205.3,402.3 L205.8,401.6 L206.3,401.6 L206.8,402.7 L207.3,402.8 L207.8,403.4 L208.3,405.5 L208.8,405.1 L209.3,405.8 L209.8,406.9 L210.3,407.3 L210.8,406.6 L211.3,408.2 L211.8,407.9 L212.3,408.0 L212.8,408.7 L213.3,407.8 L213.8,408.6 L214.3,409.3 L214.8,410.1 L215.3,409.8 L215.8,410.2 L216.3,411.2 L216.8,411.8 L217.3,411.6 L217.8,412.2 L218.3,411.4 L218.8,411.7 L219.3,412.3 L219.8,412.1 L220.3,412.2 L220.8,413.9 L221.3,412.9 L221.8,412.6 L222.3,413.8 L222.8,414.9 L223.3,414.0 L223.8,414.9 L224.3,414.1 L224.8,414.3 L225.3,414.4 L225.8,414.9 L226.3,416.4 L226.8,414.7 L227.3,416.7 L227.8,415.2 L228.3,415.9 L228.8,416.8 L229.3,416.9 L229.8,416.9 L230.3,415.8 L230.8,417.3 L231.3,416.6 L231.8,419.1 L232.3,417.5 L232.8,417.9 L233.3,417.2 L233.8,417.8 L234.3,417.4 L234.8,419.0 L235.3,418.4 L235.8,419.0 L236.3,418.4 L236.8,418.6 L237.3,419.9 L237.8,418.6 L238.3,418.1 L238.8,419.7 L239.3,418.8 L239.8,419.4 L240.3,420.4 L240.8,419.4 L241.3,420.6 L241.8,419.7 L242.3,421.2 L242.8,421.3 L243.3,420.2 L243.8,420.5 L244.3,420.2 L244.8,421.0 L245.3,421.8 L245.8,420.2 L246.3,421.9 L246.8,420.5 L247.3,421.0 L247.8,420.5 L248.3,423.1 L248.8,421.9 L249.3,422.2 L249.8,421.7 L250.3,422.9 L250.8,421.0 L251.3,422.5 L251.8,424.0 L252.3,422.5 L252.8,422.9 L253.3,423.4 L253.8,422.5 L254.3,423.2 L254.8,423.9 L255.3,423.6 L255.8,423.8 L256.3,423.4 L256.8,424.0" fill="none" stroke="#07a04f" stroke-width="1.8" stroke-linejoin="round"/>
<path d="M29.5,269 V428 H258.3" fill="none" stroke="#000" stroke-width="2.0"/>
<path d="M26.9,269.0 H29.5 M26.9,300.8 H29.5 M26.9,332.6 H29.5 M26.9,364.4 H29.5 M26.9,396.2 H29.5 M26.9,428.0 H29.5 M29.5,428 V430.8 M75.3,428 V430.8 M121.0,428 V430.8 M166.8,428 V430.8 M212.5,428 V430.8 M258.3,428 V430.8" stroke="#000" stroke-width="1.7"/>
<text class="b" x="29.5" y="442.5" font-size="9.2" text-anchor="middle">5</text>
<text class="b" x="75.3" y="442.5" font-size="9.2" text-anchor="middle">10</text>
<text class="b" x="121.0" y="442.5" font-size="9.2" text-anchor="middle">15</text>
<text class="b" x="166.8" y="442.5" font-size="9.2" text-anchor="middle">20</text>
<text class="b" x="212.5" y="442.5" font-size="9.2" text-anchor="middle">25</text>
<text class="b" x="258.3" y="442.5" font-size="9.2" text-anchor="middle">30</text>
<text class="b" x="143.9" y="456.3" font-size="9.4" text-anchor="middle">2θ (degree)</text>
<text class="b" transform="translate(11.8,357.9) rotate(-90)" x="0" y="3" font-size="9.25" text-anchor="middle">Relative Intensity(a.u.)</text>
<text class="b" x="5.8" y="279.5" font-size="13.5">c</text>
<text class="b" x="207.8" y="333.1" font-size="9.2">Control (5 days)</text>
<text class="b" x="212.7" y="359.8" font-size="9.2">60-1 (5 days)</text>
<text class="b" x="209.2" y="402.3" font-size="9.2">60-2 (5 days)</text>
<text transform="translate(44.5,343.8) rotate(-90) scale(1,1.0)" x="0" y="0" font-size="8.5" stroke="#000" stroke-width="0.15"><tspan font-style="italic">d</tspan> = 1.43 nm</text>
<text transform="translate(164.20000000000002,278.8) rotate(-90) scale(1,1.0)" x="0" y="0" font-size="8.5" stroke="#000" stroke-width="0.15"><tspan font-style="italic">d</tspan> = 0.46 nm</text>
<text transform="translate(173.60000000000002,278.8) rotate(-90) scale(1,1.0)" x="0" y="0" font-size="8.5" stroke="#000" stroke-width="0.15"><tspan font-style="italic">d</tspan> = 0.43 nm</text>
<text transform="translate(183.4,279.2) rotate(-90) scale(1,1.0)" x="0" y="0" font-size="8.5" stroke="#000" stroke-width="0.15"><tspan font-style="italic">d</tspan> = 0.42 nm</text>
<text transform="translate(193.9,307.8) rotate(-90) scale(1,1.0)" x="0" y="0" font-size="8.5" stroke="#000" stroke-width="0.15"><tspan font-style="italic">d</tspan> = 0.39 nm</text>
<text transform="translate(202.3,309.2) rotate(-90) scale(1,1.0)" x="0" y="0" font-size="8.5" stroke="#000" stroke-width="0.15"><tspan font-style="italic">d</tspan> = 0.38 nm</text>
<path d="M308.5,356.0 L309.0,356.9 L309.5,356.5 L310.0,355.8 L310.5,354.4 L311.0,356.5 L311.5,356.5 L312.0,355.4 L312.5,354.7 L313.0,355.3 L313.5,356.6 L314.0,355.3 L314.5,355.7 L315.0,356.1 L315.5,356.8 L316.0,355.9 L316.5,355.6 L317.0,355.0 L317.5,356.1 L318.0,355.2 L318.5,353.9 L319.0,351.9 L319.5,350.9 L320.0,352.0 L320.5,352.7 L321.0,355.1 L321.5,355.3 L322.0,355.6 L322.5,356.0 L323.0,355.9 L323.5,355.1 L324.0,355.5 L324.5,357.3 L325.0,355.0 L325.5,355.5 L326.0,356.6 L326.5,355.8 L327.0,355.4 L327.5,355.1 L328.0,356.3 L328.5,356.6 L329.0,356.9 L329.5,356.0 L330.0,356.7 L330.5,355.3 L331.0,356.1 L331.5,355.6 L332.0,356.1 L332.5,356.5 L333.0,356.7 L333.5,355.3 L334.0,356.8 L334.5,355.6 L335.0,355.2 L335.5,355.7 L336.0,354.9 L336.5,355.8 L337.0,355.9 L337.5,355.6 L338.0,356.0 L338.5,355.4 L339.0,355.6 L339.5,354.6 L340.0,355.5 L340.5,354.9 L341.0,355.1 L341.5,355.2 L342.0,355.4 L342.5,354.1 L343.0,354.1 L343.5,354.9 L344.0,355.3 L344.5,355.2 L345.0,355.5 L345.5,355.7 L346.0,355.1 L346.5,354.8 L347.0,354.1 L347.5,354.1 L348.0,354.3 L348.5,354.8 L349.0,354.7 L349.5,354.5 L350.0,354.4 L350.5,354.8 L351.0,354.5 L351.5,354.5 L352.0,354.5 L352.5,353.9 L353.0,353.5 L353.5,354.5 L354.0,354.4 L354.5,353.9 L355.0,353.7 L355.5,355.4 L356.0,353.4 L356.5,353.7 L357.0,354.0 L357.5,353.0 L358.0,353.8 L358.5,354.9 L359.0,354.2 L359.5,354.0 L360.0,353.9 L360.5,353.6 L361.0,354.1 L361.5,353.3 L362.0,353.1 L362.5,353.3 L363.0,353.8 L363.5,353.4 L364.0,353.5 L364.5,351.7 L365.0,353.8 L365.5,354.4 L366.0,353.7 L366.5,352.6 L367.0,352.2 L367.5,352.8 L368.0,351.9 L368.5,353.0 L369.0,352.1 L369.5,353.0 L370.0,353.2 L370.5,350.9 L371.0,352.3 L371.5,351.6 L372.0,351.0 L372.5,351.4 L373.0,351.6 L373.5,352.3 L374.0,350.6 L374.5,352.2 L375.0,352.7 L375.5,351.7 L376.0,351.5 L376.5,351.1 L377.0,350.2 L377.5,351.2 L378.0,351.0 L378.5,351.1 L379.0,352.2 L379.5,350.9 L380.0,350.6 L380.5,351.2 L381.0,349.2 L381.5,349.2 L382.0,349.6 L382.5,349.2 L383.0,350.0 L383.5,349.2 L384.0,350.4 L384.5,350.1 L385.0,349.4 L385.5,348.5 L386.0,349.0 L386.5,349.0 L387.0,347.6 L387.5,348.3 L388.0,348.3 L388.5,347.8 L389.0,348.5 L389.5,348.0 L390.0,346.4 L390.5,346.8 L391.0,345.9 L391.5,346.5 L392.0,345.3 L392.5,346.2 L393.0,345.6 L393.5,345.7 L394.0,344.8 L394.5,343.7 L395.0,345.5 L395.5,344.0 L396.0,344.8 L396.5,343.9 L397.0,343.8 L397.5,344.3 L398.0,343.1 L398.5,343.5 L399.0,341.3 L399.5,342.6 L400.0,341.5 L400.5,341.3 L401.0,341.1 L401.5,341.0 L402.0,341.5 L402.5,338.9 L403.0,339.7 L403.5,338.9 L404.0,339.7 L404.5,338.3 L405.0,338.5 L405.5,337.5 L406.0,337.8 L406.5,337.6 L407.0,336.3 L407.5,336.1 L408.0,334.7 L408.5,335.3 L409.0,335.2 L409.5,333.8 L410.0,334.3 L410.5,331.7 L411.0,331.3 L411.5,331.0 L412.0,331.0 L412.5,330.6 L413.0,329.8 L413.5,329.1 L414.0,328.8 L414.5,327.3 L415.0,326.1 L415.5,325.4 L416.0,326.9 L416.5,323.3 L417.0,324.0 L417.5,324.4 L418.0,323.1 L418.5,321.6 L419.0,321.4 L419.5,321.3 L420.0,320.8 L420.5,318.7 L421.0,319.1 L421.5,318.0 L422.0,317.8 L422.5,317.3 L423.0,315.4 L423.5,313.9 L424.0,314.4 L424.5,314.5 L425.0,313.0 L425.5,311.9 L426.0,312.5 L426.5,309.5 L427.0,310.0 L427.5,308.2 L428.0,307.8 L428.5,307.0 L429.0,307.1 L429.5,304.7 L430.0,304.1 L430.5,302.6 L431.0,303.1 L431.5,301.6 L432.0,301.4 L432.5,299.6 L433.0,299.3 L433.5,299.6 L434.0,298.1 L434.5,298.0 L435.0,297.1 L435.5,295.6 L436.0,293.5 L436.5,293.5 L437.0,291.2 L437.5,289.7 L438.0,284.9 L438.5,283.6 L439.0,284.1 L439.5,286.7 L440.0,290.0 L440.5,291.0 L441.0,291.1 L441.5,291.5 L442.0,292.1 L442.5,291.6 L443.0,292.2 L443.5,292.3 L444.0,291.0 L444.5,292.5 L445.0,294.1 L445.5,293.5 L446.0,294.2 L446.5,294.5 L447.0,295.2 L447.5,296.9 L448.0,296.7 L448.5,296.9 L449.0,296.2 L449.5,298.5 L450.0,298.3 L450.5,299.1 L451.0,301.6 L451.5,302.3 L452.0,301.4 L452.5,304.0 L453.0,304.5 L453.5,304.5 L454.0,306.2 L454.5,305.3 L455.0,306.3 L455.5,306.8 L456.0,307.7 L456.5,309.6 L457.0,308.8 L457.5,309.5 L458.0,310.3 L458.5,311.6 L459.0,311.8 L459.5,313.1 L460.0,312.7 L460.5,312.9 L461.0,314.0 L461.5,315.0 L462.0,315.0 L462.5,316.3 L463.0,317.9 L463.5,316.8 L464.0,317.6 L464.5,318.7 L465.0,317.6 L465.5,317.5 L466.0,317.1 L466.5,317.5 L467.0,316.9 L467.5,315.7 L468.0,315.2 L468.5,315.5 L469.0,315.2 L469.5,314.6 L470.0,317.3 L470.5,319.5 L471.0,321.9 L471.5,322.4 L472.0,322.9 L472.5,323.7 L473.0,323.4 L473.5,325.1 L474.0,325.2 L474.5,326.4 L475.0,325.8 L475.5,326.6 L476.0,326.7 L476.5,327.0 L477.0,328.5 L477.5,328.2 L478.0,329.2 L478.5,328.6 L479.0,329.7 L479.5,328.9 L480.0,330.1 L480.5,330.4 L481.0,331.5 L481.5,331.6 L482.0,331.7 L482.5,332.6 L483.0,332.5 L483.5,333.1 L484.0,333.6 L484.5,333.3 L485.0,333.5 L485.5,334.2 L486.0,334.1 L486.5,334.9 L487.0,335.7 L487.5,335.9 L488.0,335.4 L488.5,335.1 L489.0,336.3 L489.5,336.5 L490.0,337.6 L490.5,337.0 L491.0,337.4 L491.5,338.3 L492.0,337.8 L492.5,338.3 L493.0,339.8 L493.5,340.0 L494.0,339.7 L494.5,339.7 L495.0,339.1 L495.5,340.4 L496.0,340.3 L496.5,340.6 L497.0,340.4 L497.5,340.9 L498.0,341.0 L498.5,341.5 L499.0,342.5 L499.5,342.0 L500.0,340.9 L500.5,341.5 L501.0,341.3 L501.5,342.0 L502.0,343.0 L502.5,343.1 L503.0,342.6 L503.5,343.3 L504.0,342.8 L504.5,342.6 L505.0,342.7 L505.5,343.2 L506.0,344.9 L506.5,343.2 L507.0,345.0 L507.5,345.2 L508.0,344.4 L508.5,344.6 L509.0,344.4 L509.5,344.9 L510.0,345.5 L510.5,345.1 L511.0,345.9 L511.5,346.1 L512.0,345.7 L512.5,345.8 L513.0,345.6 L513.5,345.9 L514.0,345.1 L514.5,346.1 L515.0,346.1 L515.5,345.5 L516.0,347.5 L516.5,345.5 L517.0,345.7 L517.5,346.5 L518.0,345.1 L518.5,345.9 L519.0,345.5 L519.5,345.9 L520.0,346.5 L520.5,346.8 L521.0,347.4 L521.5,347.3 L522.0,347.6 L522.5,347.2 L523.0,346.6 L523.5,347.7 L524.0,346.7 L524.5,346.7 L525.0,348.1 L525.5,347.7 L526.0,347.4 L526.5,347.8 L527.0,347.9 L527.5,346.5 L528.0,347.3 L528.5,346.7 L529.0,347.6 L529.5,347.1 L530.0,348.5 L530.5,348.0 L531.0,347.1 L531.5,347.7 L532.0,347.0 L532.5,347.8 L533.0,348.2 L533.5,348.0" fill="none" stroke="#000" stroke-width="1.8" stroke-linejoin="round"/>
<path d="M308.5,356.0 L309.0,357.4 L309.5,358.3 L310.0,358.6 L310.5,359.6 L311.0,358.6 L311.5,360.4 L312.0,360.3 L312.5,361.5 L313.0,362.3 L313.5,363.2 L314.0,362.9 L314.5,363.8 L315.0,363.1 L315.5,363.0 L316.0,364.2 L316.5,363.4 L317.0,361.8 L317.5,361.5 L318.0,360.8 L318.5,357.2 L319.0,352.3 L319.5,351.4 L320.0,352.4 L320.5,356.7 L321.0,359.3 L321.5,361.4 L322.0,363.1 L322.5,363.4 L323.0,365.2 L323.5,365.4 L324.0,364.7 L324.5,364.4 L325.0,366.6 L325.5,365.1 L326.0,366.5 L326.5,367.2 L327.0,365.5 L327.5,366.5 L328.0,366.3 L328.5,367.1 L329.0,367.1 L329.5,368.4 L330.0,367.7 L330.5,367.4 L331.0,368.3 L331.5,367.5 L332.0,367.6 L332.5,369.4 L333.0,367.5 L333.5,367.9 L334.0,368.3 L334.5,367.7 L335.0,367.1 L335.5,369.3 L336.0,368.2 L336.5,368.5 L337.0,368.7 L337.5,368.4 L338.0,368.4 L338.5,369.3 L339.0,370.8 L339.5,369.8 L340.0,369.9 L340.5,368.5 L341.0,369.6 L341.5,368.9 L342.0,370.3 L342.5,369.7 L343.0,370.0 L343.5,370.0 L344.0,369.8 L344.5,369.3 L345.0,370.7 L345.5,369.5 L346.0,369.7 L346.5,370.3 L347.0,370.1 L347.5,370.8 L348.0,371.3 L348.5,370.8 L349.0,370.8 L349.5,370.7 L350.0,371.3 L350.5,369.6 L351.0,371.0 L351.5,370.2 L352.0,370.0 L352.5,370.8 L353.0,370.6 L353.5,371.2 L354.0,371.6 L354.5,369.4 L355.0,370.9 L355.5,372.2 L356.0,371.5 L356.5,371.9 L357.0,371.0 L357.5,370.0 L358.0,370.2 L358.5,371.5 L359.0,371.6 L359.5,370.5 L360.0,370.8 L360.5,371.2 L361.0,369.9 L361.5,370.8 L362.0,372.1 L362.5,372.5 L363.0,371.0 L363.5,372.2 L364.0,370.7 L364.5,370.5 L365.0,369.6 L365.5,371.7 L366.0,370.8 L366.5,372.6 L367.0,371.3 L367.5,371.2 L368.0,369.9 L368.5,372.0 L369.0,370.8 L369.5,370.9 L370.0,369.5 L370.5,371.5 L371.0,371.6 L371.5,370.5 L372.0,370.9 L372.5,371.1 L373.0,371.4 L373.5,370.8 L374.0,371.9 L374.5,370.5 L375.0,370.3 L375.5,370.3 L376.0,368.9 L376.5,370.0 L377.0,371.1 L377.5,370.6 L378.0,369.9 L378.5,370.6 L379.0,369.0 L379.5,370.1 L380.0,370.6 L380.5,370.6 L381.0,369.6 L381.5,370.6 L382.0,371.1 L382.5,369.5 L383.0,370.2 L383.5,368.6 L384.0,368.2 L384.5,369.7 L385.0,369.2 L385.5,369.2 L386.0,368.6 L386.5,368.6 L387.0,369.2 L387.5,369.7 L388.0,368.2 L388.5,367.2 L389.0,368.9 L389.5,368.3 L390.0,368.1 L390.5,367.6 L391.0,368.8 L391.5,367.2 L392.0,367.3 L392.5,365.6 L393.0,366.2 L393.5,365.9 L394.0,366.2 L394.5,366.2 L395.0,365.3 L395.5,366.7 L396.0,364.6 L396.5,364.8 L397.0,365.1 L397.5,363.9 L398.0,364.8 L398.5,364.6 L399.0,363.8 L399.5,365.0 L400.0,363.5 L400.5,363.4 L401.0,362.4 L401.5,361.7 L402.0,362.1 L402.5,362.0 L403.0,361.7 L403.5,362.2 L404.0,359.9 L404.5,360.4 L405.0,359.6 L405.5,361.3 L406.0,359.8 L406.5,359.4 L407.0,358.7 L407.5,359.6 L408.0,358.3 L408.5,358.3 L409.0,356.4 L409.5,358.0 L410.0,357.0 L410.5,356.6 L411.0,356.5 L411.5,355.1 L412.0,354.6 L412.5,354.6 L413.0,353.7 L413.5,352.6 L414.0,352.1 L414.5,351.0 L415.0,351.0 L415.5,350.4 L416.0,349.0 L416.5,349.5 L417.0,346.5 L417.5,346.6 L418.0,347.2 L418.5,345.0 L419.0,343.5 L419.5,344.7 L420.0,343.4 L420.5,341.5 L421.0,342.1 L421.5,340.2 L422.0,339.2 L422.5,339.2 L423.0,338.2 L423.5,337.1 L424.0,336.8 L424.5,335.6 L425.0,335.6 L425.5,334.9 L426.0,334.7 L426.5,333.3 L427.0,332.1 L427.5,331.6 L428.0,331.8 L428.5,332.5 L429.0,331.6 L429.5,330.2 L430.0,330.8 L430.5,329.0 L431.0,330.0 L431.5,328.7 L432.0,329.1 L432.5,328.6 L433.0,327.7 L433.5,327.8 L434.0,326.6 L434.5,326.9 L435.0,327.3 L435.5,329.0 L436.0,326.4 L436.5,325.7 L437.0,324.7 L437.5,325.8 L438.0,323.8 L438.5,324.2 L439.0,324.9 L439.5,323.9 L440.0,325.8 L440.5,325.6 L441.0,324.7 L441.5,324.9 L442.0,324.6 L442.5,324.9 L443.0,326.4 L443.5,326.8 L444.0,326.9 L444.5,327.2 L445.0,327.1 L445.5,328.2 L446.0,327.5 L446.5,329.1 L447.0,330.7 L447.5,331.2 L448.0,330.6 L448.5,331.3 L449.0,333.0 L449.5,333.8 L450.0,332.2 L450.5,333.5 L451.0,334.5 L451.5,335.7 L452.0,335.0 L452.5,336.6 L453.0,336.6 L453.5,338.9 L454.0,338.3 L454.5,338.6 L455.0,339.2 L455.5,340.9 L456.0,341.5 L456.5,341.2 L457.0,343.0 L457.5,342.9 L458.0,344.2 L458.5,344.7 L459.0,345.5 L459.5,346.7 L460.0,347.3 L460.5,348.9 L461.0,349.8 L461.5,349.8 L462.0,349.8 L462.5,351.7 L463.0,350.5 L463.5,351.2 L464.0,353.5 L464.5,354.2 L465.0,355.1 L465.5,354.9 L466.0,354.9 L466.5,355.9 L467.0,357.1 L467.5,356.7 L468.0,357.1 L468.5,356.9 L469.0,357.4 L469.5,359.1 L470.0,359.2 L470.5,358.6 L471.0,359.2 L471.5,360.2 L472.0,361.7 L472.5,361.5 L473.0,362.9 L473.5,362.5 L474.0,363.8 L474.5,365.5 L475.0,366.4 L475.5,365.6 L476.0,366.4 L476.5,368.0 L477.0,367.7 L477.5,368.1 L478.0,369.3 L478.5,369.6 L479.0,370.7 L479.5,370.9 L480.0,370.4 L480.5,371.2 L481.0,371.6 L481.5,371.2 L482.0,371.8 L482.5,373.4 L483.0,372.1 L483.5,374.2 L484.0,374.0 L484.5,374.1 L485.0,374.8 L485.5,375.1 L486.0,375.9 L486.5,375.1 L487.0,375.5 L487.5,375.8 L488.0,377.4 L488.5,377.1 L489.0,376.1 L489.5,376.8 L490.0,376.8 L490.5,377.5 L491.0,377.8 L491.5,379.4 L492.0,376.9 L492.5,379.0 L493.0,378.8 L493.5,378.3 L494.0,378.8 L494.5,378.8 L495.0,379.3 L495.5,380.1 L496.0,378.6 L496.5,380.6 L497.0,379.7 L497.5,381.1 L498.0,380.5 L498.5,381.2 L499.0,380.9 L499.5,381.4 L500.0,380.9 L500.5,380.4 L501.0,381.6 L501.5,381.7 L502.0,382.7 L502.5,380.2 L503.0,381.5 L503.5,382.4 L504.0,381.1 L504.5,381.8 L505.0,383.5 L505.5,383.1 L506.0,381.8 L506.5,383.4 L507.0,383.3 L507.5,383.2 L508.0,383.0 L508.5,383.0 L509.0,382.4 L509.5,382.7 L510.0,383.7 L510.5,383.4 L511.0,384.6 L511.5,383.2 L512.0,382.0 L512.5,383.4 L513.0,383.9 L513.5,384.0 L514.0,383.9 L514.5,383.4 L515.0,385.0 L515.5,383.7 L516.0,384.6 L516.5,384.1 L517.0,383.5 L517.5,385.3 L518.0,382.8 L518.5,384.0 L519.0,384.8 L519.5,384.4 L520.0,385.2 L520.5,384.7 L521.0,384.5 L521.5,386.3 L522.0,384.8 L522.5,384.9 L523.0,384.4 L523.5,384.6 L524.0,385.6 L524.5,385.6 L525.0,385.3 L525.5,384.9 L526.0,385.9 L526.5,384.4 L527.0,385.4 L527.5,385.5 L528.0,385.2 L528.5,385.9 L529.0,385.4 L529.5,385.4 L530.0,387.1 L530.5,386.5 L531.0,386.9 L531.5,386.2 L532.0,386.8 L532.5,386.8" fill="none" stroke="#bb4a4d" stroke-width="1.8" stroke-linejoin="round"/>
<path d="M308.6,397.7 L309.1,398.7 L309.6,397.4 L310.1,398.0 L310.6,398.1 L311.1,396.1 L311.6,397.8 L312.1,399.0 L312.6,399.7 L313.1,399.2 L313.6,400.7 L314.1,401.1 L314.6,400.3 L315.1,401.8 L315.6,402.2 L316.1,401.5 L316.6,400.7 L317.1,401.6 L317.6,399.0 L318.1,396.7 L318.6,393.7 L319.1,388.5 L319.6,390.1 L320.1,394.6 L320.6,399.9 L321.1,402.5 L321.6,402.1 L322.1,403.0 L322.6,404.0 L323.1,403.5 L323.6,405.9 L324.1,404.0 L324.6,403.9 L325.1,405.2 L325.6,405.1 L326.1,404.7 L326.6,404.7 L327.1,405.3 L327.6,405.7 L328.1,405.8 L328.6,405.2 L329.1,405.9 L329.6,406.3 L330.1,406.3 L330.6,403.9 L331.1,405.5 L331.6,405.7 L332.1,406.1 L332.6,406.5 L333.1,407.1 L333.6,407.0 L334.1,406.6 L334.6,406.8 L335.1,408.1 L335.6,406.6 L336.1,407.3 L336.6,408.3 L337.1,407.6 L337.6,406.2 L338.1,407.9 L338.6,407.5 L339.1,407.8 L339.6,408.7 L340.1,408.4 L340.6,408.0 L341.1,408.9 L341.6,408.7 L342.1,408.6 L342.6,408.8 L343.1,408.9 L343.6,408.6 L344.1,408.6 L344.6,409.0 L345.1,408.4 L345.6,408.3 L346.1,410.0 L346.6,409.1 L347.1,409.2 L347.6,409.2 L348.1,409.3 L348.6,409.3 L349.1,409.3 L349.6,408.8 L350.1,409.9 L350.6,408.9 L351.1,410.0 L351.6,408.1 L352.1,408.6 L352.6,409.9 L353.1,409.2 L353.6,408.9 L354.1,409.5 L354.6,408.6 L355.1,409.3 L355.6,407.9 L356.1,409.0 L356.6,408.9 L357.1,409.7 L357.6,409.9 L358.1,408.7 L358.6,410.3 L359.1,408.9 L359.6,408.0 L360.1,407.8 L360.6,410.3 L361.1,409.2 L361.6,408.9 L362.1,408.8 L362.6,408.6 L363.1,410.2 L363.6,409.2 L364.1,410.4 L364.6,409.1 L365.1,407.7 L365.6,409.7 L366.1,408.8 L366.6,408.8 L367.1,409.9 L367.6,408.6 L368.1,409.4 L368.6,408.6 L369.1,408.0 L369.6,408.7 L370.1,407.8 L370.6,408.9 L371.1,408.6 L371.6,407.9 L372.1,408.1 L372.6,408.0 L373.1,407.3 L373.6,407.9 L374.1,407.1 L374.6,407.5 L375.1,406.4 L375.6,407.0 L376.1,407.1 L376.6,406.3 L377.1,406.4 L377.6,406.3 L378.1,407.0 L378.6,406.0 L379.1,406.6 L379.6,407.2 L380.1,406.4 L380.6,405.0 L381.1,406.0 L381.6,406.5 L382.1,405.5 L382.6,406.3 L383.1,405.9 L383.6,405.6 L384.1,405.0 L384.6,404.7 L385.1,404.6 L385.6,404.7 L386.1,404.8 L386.6,404.5 L387.1,403.8 L387.6,403.8 L388.1,403.8 L388.6,402.3 L389.1,402.6 L389.6,402.3 L390.1,402.5 L390.6,402.2 L391.1,402.0 L391.6,401.4 L392.1,402.1 L392.6,401.6 L393.1,400.1 L393.6,400.9 L394.1,399.9 L394.6,401.5 L395.1,399.8 L395.6,399.6 L396.1,399.6 L396.6,399.1 L397.1,398.9 L397.6,399.7 L398.1,398.5 L398.6,398.6 L399.1,398.4 L399.6,396.7 L400.1,398.1 L400.6,397.1 L401.1,396.9 L401.6,395.3 L402.1,396.0 L402.6,395.3 L403.1,394.2 L403.6,395.6 L404.1,394.0 L404.6,392.9 L405.1,392.7 L405.6,392.6 L406.1,392.2 L406.6,391.2 L407.1,391.0 L407.6,390.6 L408.1,388.2 L408.6,388.1 L409.1,387.2 L409.6,387.2 L410.1,387.5 L410.6,386.3 L411.1,384.5 L411.6,384.3 L412.1,384.5 L412.6,382.8 L413.1,382.3 L413.6,381.9 L414.1,379.7 L414.6,380.7 L415.1,379.6 L415.6,379.0 L416.1,377.2 L416.6,376.6 L417.1,375.9 L417.6,375.7 L418.1,374.7 L418.6,373.9 L419.1,374.2 L419.6,373.0 L420.1,370.8 L420.6,369.9 L421.1,370.6 L421.6,368.4 L422.1,368.5 L422.6,367.7 L423.1,365.4 L423.6,364.6 L424.1,363.8 L424.6,362.1 L425.1,361.0 L425.6,360.2 L426.1,359.8 L426.6,357.6 L427.1,356.4 L427.6,354.8 L428.1,352.8 L428.6,353.4 L429.1,349.9 L429.6,350.0 L430.1,349.8 L430.6,347.6 L431.1,348.0 L431.6,347.7 L432.1,345.6 L432.6,345.7 L433.1,344.4 L433.6,345.0 L434.1,344.3 L434.6,343.9 L435.1,344.3 L435.6,343.5 L436.1,343.9 L436.6,343.3 L437.1,342.1 L437.6,343.1 L438.1,343.2 L438.6,342.0 L439.1,343.8 L439.6,343.0 L440.1,343.2 L440.6,342.3 L441.1,343.1 L441.6,343.5 L442.1,343.4 L442.6,344.0 L443.1,342.9 L443.6,345.5 L444.1,344.1 L444.6,343.4 L445.1,344.1 L445.6,344.0 L446.1,344.7 L446.6,343.7 L447.1,344.4 L447.6,344.4 L448.1,348.1 L448.6,349.1 L449.1,352.0 L449.6,351.6 L450.1,353.9 L450.6,354.1 L451.1,356.2 L451.6,357.3 L452.1,356.8 L452.6,358.0 L453.1,358.8 L453.6,359.4 L454.1,360.8 L454.6,361.9 L455.1,363.1 L455.6,365.8 L456.1,367.7 L456.6,368.2 L457.1,370.5 L457.6,372.6 L458.1,374.0 L458.6,375.1 L459.1,377.2 L459.6,378.2 L460.1,379.1 L460.6,379.5 L461.1,381.9 L461.6,382.9 L462.1,382.6 L462.6,383.7 L463.1,385.5 L463.6,385.0 L464.1,386.6 L464.6,387.1 L465.1,387.4 L465.6,388.3 L466.1,388.1 L466.6,389.3 L467.1,388.9 L467.6,392.2 L468.1,392.3 L468.6,392.7 L469.1,392.7 L469.6,393.8 L470.1,394.6 L470.6,395.1 L471.1,395.8 L471.6,395.3 L472.1,397.0 L472.6,397.1 L473.1,397.6 L473.6,398.6 L474.1,400.6 L474.6,402.0 L475.1,401.2 L475.6,403.9 L476.1,404.3 L476.6,403.6 L477.1,404.0 L477.6,404.8 L478.1,405.9 L478.6,405.4 L479.1,405.3 L479.6,406.7 L480.1,405.5 L480.6,407.3 L481.1,408.3 L481.6,408.1 L482.1,408.8 L482.6,409.0 L483.1,409.5 L483.6,409.5 L484.1,409.3 L484.6,410.1 L485.1,410.5 L485.6,411.8 L486.1,412.4 L486.6,412.0 L487.1,411.6 L487.6,412.0 L488.1,412.7 L488.6,414.1 L489.1,413.7 L489.6,413.8 L490.1,413.7 L490.6,415.0 L491.1,414.9 L491.6,415.0 L492.1,415.4 L492.6,416.6 L493.1,415.7 L493.6,417.1 L494.1,417.1 L494.6,416.5 L495.1,417.3 L495.6,416.9 L496.1,416.6 L496.6,417.2 L497.1,417.0 L497.6,418.1 L498.1,418.0 L498.6,418.6 L499.1,418.9 L499.6,416.5 L500.1,418.9 L500.6,417.7 L501.1,419.2 L501.6,418.7 L502.1,419.5 L502.6,420.4 L503.1,418.6 L503.6,419.9 L504.1,419.9 L504.6,418.8 L505.1,420.6 L505.6,420.3 L506.1,420.0 L506.6,420.0 L507.1,422.7 L507.6,420.4 L508.1,419.6 L508.6,420.2 L509.1,420.7 L509.6,420.8 L510.1,421.0 L510.6,420.5 L511.1,421.6 L511.6,421.0 L512.1,420.6 L512.6,421.0 L513.1,421.4 L513.6,422.3 L514.1,422.2 L514.6,421.7 L515.1,422.1 L515.6,422.3 L516.1,423.6 L516.6,422.0 L517.1,422.8 L517.6,423.1 L518.1,422.1 L518.6,422.9 L519.1,423.0 L519.6,422.7 L520.1,423.5 L520.6,423.9 L521.1,424.1 L521.6,423.3 L522.1,423.6 L522.6,425.1 L523.1,423.0 L523.6,423.9 L524.1,424.5 L524.6,424.1 L525.1,424.5 L525.6,424.2 L526.1,424.7 L526.6,425.1 L527.1,424.2 L527.6,424.6 L528.1,424.5 L528.6,424.3 L529.1,424.7 L529.6,424.0 L530.1,425.3 L530.6,426.0 L531.1,426.1 L531.6,425.9 L532.1,424.5 L532.6,426.2" fill="none" stroke="#07a04f" stroke-width="1.8" stroke-linejoin="round"/>
<path d="M308,270.5 V429 H533.8" fill="none" stroke="#000" stroke-width="2.0"/>
<path d="M305.4,270.5 H308 M305.4,302.2 H308 M305.4,333.9 H308 M305.4,365.6 H308 M305.4,397.3 H308 M305.4,429.0 H308 M308.0,429 V431.8 M353.2,429 V431.8 M398.3,429 V431.8 M443.5,429 V431.8 M488.6,429 V431.8 M533.8,429 V431.8" stroke="#000" stroke-width="1.7"/>
<text class="b" x="308.0" y="442.7" font-size="9.2" text-anchor="middle">5</text>
<text class="b" x="353.2" y="442.7" font-size="9.2" text-anchor="middle">10</text>
<text class="b" x="398.3" y="442.7" font-size="9.2" text-anchor="middle">15</text>
<text class="b" x="443.5" y="442.7" font-size="9.2" text-anchor="middle">20</text>
<text class="b" x="488.6" y="442.7" font-size="9.2" text-anchor="middle">25</text>
<text class="b" x="533.8" y="442.7" font-size="9.2" text-anchor="middle">30</text>
<text class="b" x="420.9" y="457" font-size="9.4" text-anchor="middle">2θ (degree)</text>
<text class="b" transform="translate(287.9,351.4) rotate(-90)" x="0" y="3" font-size="9.25" text-anchor="middle">Relative Intensity(a.u.)</text>
<text class="b" x="282.6" y="283.1" font-size="13.5">d</text>
<text class="b" x="483.2" y="330.8" font-size="9.2">Control (5 days)</text>
<text class="b" x="492.3" y="373.1" font-size="9.2">120-1 (5 days)</text>
<text class="b" x="491.3" y="410.8" font-size="9.2">120-2 (5 days)</text>
<text transform="translate(322.8,345.3) rotate(-90) scale(1,1.0)" x="0" y="0" font-size="8.5" stroke="#000" stroke-width="0.15"><tspan font-style="italic">d</tspan> = 1.43 nm</text>
<text transform="translate(440.3,282.6) rotate(-90) scale(1,1.0)" x="0" y="0" font-size="8.5" stroke="#000" stroke-width="0.15"><tspan font-style="italic">d</tspan> = 0.46 nm</text>
<text transform="translate(454.6,283.3) rotate(-90) scale(1,1.0)" x="0" y="0" font-size="8.5" stroke="#000" stroke-width="0.15"><tspan font-style="italic">d</tspan> = 0.42 nm</text>
<text transform="translate(471.6,309.9) rotate(-90) scale(1,1.0)" x="0" y="0" font-size="8.5" stroke="#000" stroke-width="0.15"><tspan font-style="italic">d</tspan> = 0.39 nm</text>
</svg></body></html>
